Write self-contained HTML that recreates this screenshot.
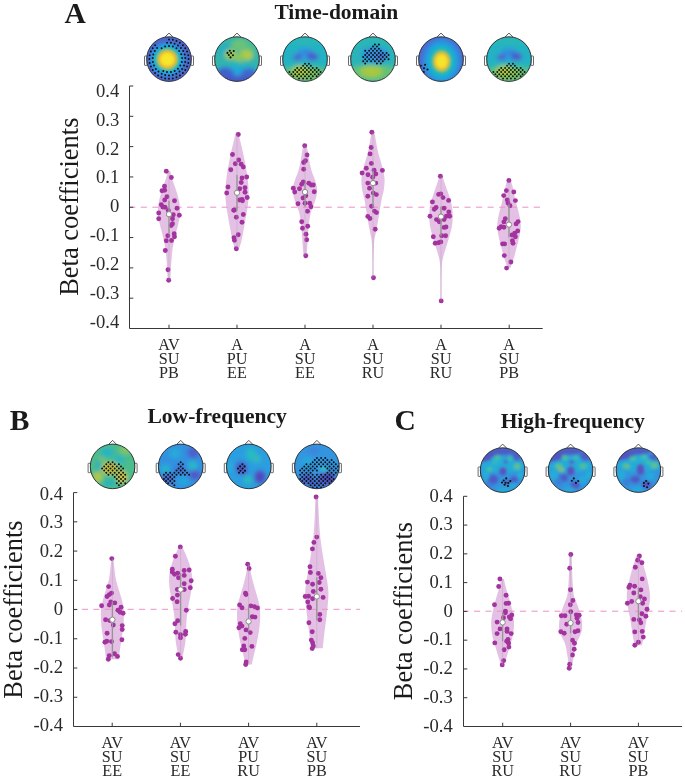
<!DOCTYPE html>
<html><head><meta charset="utf-8"><style>html,body{margin:0;padding:0;background:#fff;}svg{display:block;will-change:transform;}</style></head><body>
<svg width="685" height="779" viewBox="0 0 685 779">
<defs><filter id="blur" x="-30%" y="-30%" width="160%" height="160%"><feGaussianBlur stdDeviation="2.2"/></filter><filter id="blur3" x="-30%" y="-30%" width="160%" height="160%"><feGaussianBlur stdDeviation="1.5"/></filter><filter id="blur2" x="-30%" y="-30%" width="160%" height="160%"><feGaussianBlur stdDeviation="0.9"/></filter><radialGradient id="gA1" cx="0.5" cy="0.5" r="0.5"><stop offset="0" stop-color="#f5ec28"/><stop offset="0.26" stop-color="#f4e22a"/><stop offset="0.345" stop-color="#f3a834"/><stop offset="0.395" stop-color="#a8c84a"/><stop offset="0.445" stop-color="#50be84"/><stop offset="0.50" stop-color="#20b4c2"/><stop offset="0.57" stop-color="#18acd8"/><stop offset="0.67" stop-color="#2f8ee0"/><stop offset="0.80" stop-color="#4868cc"/><stop offset="1" stop-color="#4a66ca"/></radialGradient><radialGradient id="gA5" cx="0.5" cy="0.5" r="0.5"><stop offset="0" stop-color="#f3ea2a"/><stop offset="0.19" stop-color="#f3e02c"/><stop offset="0.25" stop-color="#f2b036"/><stop offset="0.29" stop-color="#a8c84a"/><stop offset="0.33" stop-color="#54be82"/><stop offset="0.40" stop-color="#22b4c0"/><stop offset="0.50" stop-color="#1aaad8"/><stop offset="0.60" stop-color="#2a94e0"/><stop offset="0.75" stop-color="#4670d2"/><stop offset="1" stop-color="#4866cc"/></radialGradient></defs>
<rect width="685" height="779" fill="#fff"/>
<text x="64.6" y="22.6" font-family='"Liberation Serif", serif' font-weight="bold" font-size="29.5" fill="#1a1a1a">A</text>
<text x="9.8" y="430" font-family='"Liberation Serif", serif' font-weight="bold" font-size="29.5" fill="#1a1a1a">B</text>
<text x="394.6" y="430" font-family='"Liberation Serif", serif' font-weight="bold" font-size="29.5" fill="#1a1a1a">C</text>
<text x="336.3" y="19.3" text-anchor="middle" font-family='"Liberation Serif", serif' font-weight="bold" font-size="21.5" fill="#1a1a1a">Time-domain</text>
<text x="217.2" y="422.8" text-anchor="middle" font-family='"Liberation Serif", serif' font-weight="bold" font-size="21.5" fill="#1a1a1a">Low-frequency</text>
<text x="572.7" y="427.9" text-anchor="middle" font-family='"Liberation Serif", serif' font-weight="bold" font-size="21.5" fill="#1a1a1a">High-frequency</text>
<path d="M170.20,171.00 C170.58,172.50 171.53,176.83 172.50,180.00 C173.47,183.17 174.95,186.67 176.00,190.00 C177.05,193.33 178.13,197.00 178.80,200.00 C179.47,203.00 179.83,205.33 180.00,208.00 C180.17,210.67 180.08,213.33 179.80,216.00 C179.52,218.67 178.90,221.33 178.30,224.00 C177.70,226.67 176.95,229.00 176.20,232.00 C175.45,235.00 174.47,238.67 173.80,242.00 C173.13,245.33 172.63,248.33 172.20,252.00 C171.77,255.67 171.47,260.17 171.20,264.00 C170.93,267.83 170.80,272.00 170.60,275.00 C170.40,278.00 170.10,280.83 170.00,282.00 L168.00,282.00 C167.90,280.83 167.60,278.00 167.40,275.00 C167.20,272.00 167.07,267.83 166.80,264.00 C166.53,260.17 166.23,255.67 165.80,252.00 C165.37,248.33 164.87,245.33 164.20,242.00 C163.53,238.67 162.55,235.00 161.80,232.00 C161.05,229.00 160.30,226.67 159.70,224.00 C159.10,221.33 158.48,218.67 158.20,216.00 C157.92,213.33 157.83,210.67 158.00,208.00 C158.17,205.33 158.53,203.00 159.20,200.00 C159.87,197.00 160.95,193.33 162.00,190.00 C163.05,186.67 164.53,183.17 165.50,180.00 C166.47,176.83 167.42,172.50 167.80,171.00 Z" fill="#e4c1e4"/>
<path d="M238.20,132.50 C238.58,134.08 239.62,138.25 240.50,142.00 C241.38,145.75 242.58,150.67 243.50,155.00 C244.42,159.33 245.28,163.83 246.00,168.00 C246.72,172.17 247.37,176.00 247.80,180.00 C248.23,184.00 248.53,188.33 248.60,192.00 C248.67,195.67 248.50,198.67 248.20,202.00 C247.90,205.33 247.33,208.67 246.80,212.00 C246.27,215.33 245.60,218.67 245.00,222.00 C244.40,225.33 243.83,228.67 243.20,232.00 C242.57,235.33 242.03,238.83 241.20,242.00 C240.37,245.17 238.70,249.50 238.20,251.00 L235.80,251.00 C235.30,249.50 233.63,245.17 232.80,242.00 C231.97,238.83 231.43,235.33 230.80,232.00 C230.17,228.67 229.60,225.33 229.00,222.00 C228.40,218.67 227.73,215.33 227.20,212.00 C226.67,208.67 226.10,205.33 225.80,202.00 C225.50,198.67 225.33,195.67 225.40,192.00 C225.47,188.33 225.77,184.00 226.20,180.00 C226.63,176.00 227.28,172.17 228.00,168.00 C228.72,163.83 229.58,159.33 230.50,155.00 C231.42,150.67 232.62,145.75 233.50,142.00 C234.38,138.25 235.42,134.08 235.80,132.50 Z" fill="#e4c1e4"/>
<path d="M306.20,144.20 C306.50,145.50 307.45,149.03 308.00,152.00 C308.55,154.97 308.83,158.67 309.50,162.00 C310.17,165.33 311.08,169.00 312.00,172.00 C312.92,175.00 314.17,177.33 315.00,180.00 C315.83,182.67 316.75,185.33 317.00,188.00 C317.25,190.67 317.00,193.33 316.50,196.00 C316.00,198.67 314.92,201.33 314.00,204.00 C313.08,206.67 311.80,209.00 311.00,212.00 C310.20,215.00 309.70,218.17 309.20,222.00 C308.70,225.83 308.33,230.67 308.00,235.00 C307.67,239.33 307.53,244.12 307.20,248.00 C306.87,251.88 306.20,256.58 306.00,258.30 L304.00,258.30 C303.80,256.58 303.13,251.88 302.80,248.00 C302.47,244.12 302.33,239.33 302.00,235.00 C301.67,230.67 301.30,225.83 300.80,222.00 C300.30,218.17 299.80,215.00 299.00,212.00 C298.20,209.00 296.92,206.67 296.00,204.00 C295.08,201.33 294.00,198.67 293.50,196.00 C293.00,193.33 292.75,190.67 293.00,188.00 C293.25,185.33 294.17,182.67 295.00,180.00 C295.83,177.33 297.08,175.00 298.00,172.00 C298.92,169.00 299.83,165.33 300.50,162.00 C301.17,158.67 301.45,154.97 302.00,152.00 C302.55,149.03 303.50,145.50 303.80,144.20 Z" fill="#e4c1e4"/>
<path d="M374.20,130.60 C374.47,132.17 375.17,136.43 375.80,140.00 C376.43,143.57 377.05,148.00 378.00,152.00 C378.95,156.00 380.58,160.67 381.50,164.00 C382.42,167.33 382.98,169.33 383.50,172.00 C384.02,174.67 384.55,177.00 384.60,180.00 C384.65,183.00 384.32,186.67 383.80,190.00 C383.28,193.33 382.22,196.33 381.50,200.00 C380.78,203.67 380.17,208.00 379.50,212.00 C378.83,216.00 378.15,220.33 377.50,224.00 C376.85,227.67 376.15,231.00 375.60,234.00 C375.05,237.00 374.53,237.67 374.20,242.00 C373.87,246.33 373.70,253.83 373.60,260.00 C373.50,266.17 373.60,275.83 373.60,279.00 L372.40,279.00 C372.40,275.83 372.50,266.17 372.40,260.00 C372.30,253.83 372.13,246.33 371.80,242.00 C371.47,237.67 370.95,237.00 370.40,234.00 C369.85,231.00 369.15,227.67 368.50,224.00 C367.85,220.33 367.17,216.00 366.50,212.00 C365.83,208.00 365.22,203.67 364.50,200.00 C363.78,196.33 362.72,193.33 362.20,190.00 C361.68,186.67 361.35,183.00 361.40,180.00 C361.45,177.00 361.98,174.67 362.50,172.00 C363.02,169.33 363.58,167.33 364.50,164.00 C365.42,160.67 367.05,156.00 368.00,152.00 C368.95,148.00 369.57,143.57 370.20,140.00 C370.83,136.43 371.53,132.17 371.80,130.60 Z" fill="#e4c1e4"/>
<path d="M442.20,175.20 C442.67,176.67 443.95,180.87 445.00,184.00 C446.05,187.13 447.42,190.67 448.50,194.00 C449.58,197.33 450.78,200.50 451.50,204.00 C452.22,207.50 452.72,211.33 452.80,215.00 C452.88,218.67 452.55,222.50 452.00,226.00 C451.45,229.50 450.42,232.67 449.50,236.00 C448.58,239.33 447.50,242.67 446.50,246.00 C445.50,249.33 444.25,253.00 443.50,256.00 C442.75,259.00 442.32,260.00 442.00,264.00 C441.68,268.00 441.67,273.53 441.60,280.00 C441.53,286.47 441.60,299.00 441.60,302.80 L440.40,302.80 C440.40,299.00 440.47,286.47 440.40,280.00 C440.33,273.53 440.32,268.00 440.00,264.00 C439.68,260.00 439.25,259.00 438.50,256.00 C437.75,253.00 436.50,249.33 435.50,246.00 C434.50,242.67 433.42,239.33 432.50,236.00 C431.58,232.67 430.55,229.50 430.00,226.00 C429.45,222.50 429.12,218.67 429.20,215.00 C429.28,211.33 429.78,207.50 430.50,204.00 C431.22,200.50 432.42,197.33 433.50,194.00 C434.58,190.67 435.95,187.13 437.00,184.00 C438.05,180.87 439.33,176.67 439.80,175.20 Z" fill="#e4c1e4"/>
<path d="M510.20,178.80 C510.58,180.00 511.78,183.13 512.50,186.00 C513.22,188.87 513.75,192.67 514.50,196.00 C515.25,199.33 516.17,202.67 517.00,206.00 C517.83,209.33 518.87,212.67 519.50,216.00 C520.13,219.33 520.80,222.67 520.80,226.00 C520.80,229.33 520.13,232.67 519.50,236.00 C518.87,239.33 517.83,242.67 517.00,246.00 C516.17,249.33 515.25,253.33 514.50,256.00 C513.75,258.67 513.17,260.05 512.50,262.00 C511.83,263.95 510.83,266.75 510.50,267.70 L507.50,267.70 C507.17,266.75 506.17,263.95 505.50,262.00 C504.83,260.05 504.25,258.67 503.50,256.00 C502.75,253.33 501.83,249.33 501.00,246.00 C500.17,242.67 499.13,239.33 498.50,236.00 C497.87,232.67 497.20,229.33 497.20,226.00 C497.20,222.67 497.87,219.33 498.50,216.00 C499.13,212.67 500.17,209.33 501.00,206.00 C501.83,202.67 502.75,199.33 503.50,196.00 C504.25,192.67 504.78,188.87 505.50,186.00 C506.22,183.13 507.42,180.00 507.80,178.80 Z" fill="#e4c1e4"/>
<path d="M113.60,560.30 C113.77,561.92 114.20,566.72 114.60,570.00 C115.00,573.28 115.28,576.67 116.00,580.00 C116.72,583.33 117.92,586.67 118.90,590.00 C119.88,593.33 121.08,596.67 121.90,600.00 C122.72,603.33 123.48,606.67 123.80,610.00 C124.12,613.33 123.95,616.67 123.80,620.00 C123.65,623.33 123.30,626.67 122.90,630.00 C122.50,633.33 121.90,636.67 121.40,640.00 C120.90,643.33 120.37,646.78 119.90,650.00 C119.43,653.22 118.82,657.75 118.60,659.30 L106.20,659.30 C105.98,657.75 105.37,653.22 104.90,650.00 C104.43,646.78 103.90,643.33 103.40,640.00 C102.90,636.67 102.30,633.33 101.90,630.00 C101.50,626.67 101.15,623.33 101.00,620.00 C100.85,616.67 100.68,613.33 101.00,610.00 C101.32,606.67 102.08,603.33 102.90,600.00 C103.72,596.67 104.92,593.33 105.90,590.00 C106.88,586.67 108.08,583.33 108.80,580.00 C109.52,576.67 109.80,573.28 110.20,570.00 C110.60,566.72 111.03,561.92 111.20,560.30 Z" fill="#e4c1e4"/>
<path d="M181.80,545.40 C182.35,546.67 183.88,550.07 185.10,553.00 C186.32,555.93 188.02,559.67 189.10,563.00 C190.18,566.33 191.10,569.83 191.60,573.00 C192.10,576.17 192.18,578.83 192.10,582.00 C192.02,585.17 191.60,588.67 191.10,592.00 C190.60,595.33 189.72,598.67 189.10,602.00 C188.48,605.33 187.85,608.67 187.40,612.00 C186.95,615.33 186.62,618.67 186.40,622.00 C186.18,625.33 186.27,628.67 186.10,632.00 C185.93,635.33 185.82,638.67 185.40,642.00 C184.98,645.33 184.20,649.25 183.60,652.00 C183.00,654.75 182.10,657.42 181.80,658.50 L179.40,658.50 C179.10,657.42 178.20,654.75 177.60,652.00 C177.00,649.25 176.22,645.33 175.80,642.00 C175.38,638.67 175.27,635.33 175.10,632.00 C174.93,628.67 175.02,625.33 174.80,622.00 C174.58,618.67 174.25,615.33 173.80,612.00 C173.35,608.67 172.72,605.33 172.10,602.00 C171.48,598.67 170.60,595.33 170.10,592.00 C169.60,588.67 169.18,585.17 169.10,582.00 C169.02,578.83 169.10,576.17 169.60,573.00 C170.10,569.83 171.02,566.33 172.10,563.00 C173.18,559.67 174.88,555.93 176.10,553.00 C177.32,550.07 178.85,546.67 179.40,545.40 Z" fill="#e4c1e4"/>
<path d="M249.80,566.40 C250.10,568.00 250.88,572.73 251.60,576.00 C252.32,579.27 253.18,582.67 254.10,586.00 C255.02,589.33 256.18,592.67 257.10,596.00 C258.02,599.33 259.08,602.67 259.60,606.00 C260.12,609.33 260.20,612.67 260.20,616.00 C260.20,619.33 259.95,622.67 259.60,626.00 C259.25,629.33 258.68,632.67 258.10,636.00 C257.52,639.33 256.85,642.67 256.10,646.00 C255.35,649.33 254.32,652.92 253.60,656.00 C252.88,659.08 252.10,663.08 251.80,664.50 L245.40,664.50 C245.10,663.08 244.32,659.08 243.60,656.00 C242.88,652.92 241.85,649.33 241.10,646.00 C240.35,642.67 239.68,639.33 239.10,636.00 C238.52,632.67 237.95,629.33 237.60,626.00 C237.25,622.67 237.00,619.33 237.00,616.00 C237.00,612.67 237.08,609.33 237.60,606.00 C238.12,602.67 239.18,599.33 240.10,596.00 C241.02,592.67 242.18,589.33 243.10,586.00 C244.02,582.67 244.88,579.27 245.60,576.00 C246.32,572.73 247.10,568.00 247.40,566.40 Z" fill="#e4c1e4"/>
<path d="M318.00,496.50 C318.10,498.75 318.38,505.25 318.60,510.00 C318.82,514.75 318.97,520.00 319.30,525.00 C319.63,530.00 320.02,535.00 320.60,540.00 C321.18,545.00 322.02,550.00 322.80,555.00 C323.58,560.00 324.55,565.50 325.30,570.00 C326.05,574.50 326.78,578.33 327.30,582.00 C327.82,585.67 328.28,588.67 328.40,592.00 C328.52,595.33 328.27,598.33 328.00,602.00 C327.73,605.67 327.25,610.00 326.80,614.00 C326.35,618.00 325.80,622.00 325.30,626.00 C324.80,630.00 324.22,634.30 323.80,638.00 C323.38,641.70 322.97,646.50 322.80,648.20 L310.80,648.20 C310.63,646.50 310.22,641.70 309.80,638.00 C309.38,634.30 308.80,630.00 308.30,626.00 C307.80,622.00 307.25,618.00 306.80,614.00 C306.35,610.00 305.87,605.67 305.60,602.00 C305.33,598.33 305.08,595.33 305.20,592.00 C305.32,588.67 305.78,585.67 306.30,582.00 C306.82,578.33 307.55,574.50 308.30,570.00 C309.05,565.50 310.02,560.00 310.80,555.00 C311.58,550.00 312.42,545.00 313.00,540.00 C313.58,535.00 313.97,530.00 314.30,525.00 C314.63,520.00 314.78,514.75 315.00,510.00 C315.22,505.25 315.50,498.75 315.60,496.50 Z" fill="#e4c1e4"/>
<path d="M503.80,579.00 C504.27,580.83 505.63,586.50 506.60,590.00 C507.57,593.50 508.68,596.67 509.60,600.00 C510.52,603.33 511.37,606.33 512.10,610.00 C512.83,613.67 513.83,618.00 514.00,622.00 C514.17,626.00 513.67,630.33 513.10,634.00 C512.53,637.67 511.52,640.67 510.60,644.00 C509.68,647.33 508.52,651.00 507.60,654.00 C506.68,657.00 505.77,660.03 505.10,662.00 C504.43,663.97 503.85,665.17 503.60,665.80 L501.60,665.80 C501.35,665.17 500.77,663.97 500.10,662.00 C499.43,660.03 498.52,657.00 497.60,654.00 C496.68,651.00 495.52,647.33 494.60,644.00 C493.68,640.67 492.67,637.67 492.10,634.00 C491.53,630.33 491.03,626.00 491.20,622.00 C491.37,618.00 492.37,613.67 493.10,610.00 C493.83,606.33 494.68,603.33 495.60,600.00 C496.52,596.67 497.63,593.50 498.60,590.00 C499.57,586.50 500.93,580.83 501.40,579.00 Z" fill="#e4c1e4"/>
<path d="M571.80,554.20 C571.85,556.83 571.93,564.87 572.10,570.00 C572.27,575.13 572.52,580.83 572.80,585.00 C573.08,589.17 573.37,592.50 573.80,595.00 C574.23,597.50 574.80,598.33 575.40,600.00 C576.00,601.67 576.75,603.25 577.40,605.00 C578.05,606.75 578.72,608.67 579.30,610.50 C579.88,612.33 580.47,614.25 580.90,616.00 C581.33,617.75 581.68,619.33 581.90,621.00 C582.12,622.67 582.23,624.33 582.20,626.00 C582.17,627.67 582.08,629.33 581.70,631.00 C581.32,632.67 580.65,634.28 579.90,636.00 C579.15,637.72 577.93,639.63 577.20,641.30 C576.47,642.97 575.95,644.28 575.50,646.00 C575.05,647.72 574.82,649.77 574.50,651.60 C574.18,653.43 573.87,655.27 573.60,657.00 C573.33,658.73 573.23,659.97 572.90,662.00 C572.57,664.03 571.82,668.00 571.60,669.20 L569.60,669.20 C569.38,668.00 568.63,664.03 568.30,662.00 C567.97,659.97 567.87,658.73 567.60,657.00 C567.33,655.27 567.02,653.43 566.70,651.60 C566.38,649.77 566.15,647.72 565.70,646.00 C565.25,644.28 564.73,642.97 564.00,641.30 C563.27,639.63 562.05,637.72 561.30,636.00 C560.55,634.28 559.88,632.67 559.50,631.00 C559.12,629.33 559.03,627.67 559.00,626.00 C558.97,624.33 559.08,622.67 559.30,621.00 C559.52,619.33 559.87,617.75 560.30,616.00 C560.73,614.25 561.32,612.33 561.90,610.50 C562.48,608.67 563.15,606.75 563.80,605.00 C564.45,603.25 565.20,601.67 565.80,600.00 C566.40,598.33 566.97,597.50 567.40,595.00 C567.83,592.50 568.12,589.17 568.40,585.00 C568.68,580.83 568.93,575.13 569.10,570.00 C569.27,564.87 569.35,556.83 569.40,554.20 Z" fill="#e4c1e4"/>
<path d="M639.90,554.20 C640.32,555.50 641.48,559.03 642.40,562.00 C643.32,564.97 644.48,568.67 645.40,572.00 C646.32,575.33 647.18,578.67 647.90,582.00 C648.62,585.33 649.37,589.00 649.70,592.00 C650.03,595.00 650.12,597.00 649.90,600.00 C649.68,603.00 648.98,606.67 648.40,610.00 C647.82,613.33 646.98,616.67 646.40,620.00 C645.82,623.33 645.43,626.67 644.90,630.00 C644.37,633.33 643.70,637.45 643.20,640.00 C642.70,642.55 642.12,644.42 641.90,645.30 L634.90,645.30 C634.68,644.42 634.10,642.55 633.60,640.00 C633.10,637.45 632.43,633.33 631.90,630.00 C631.37,626.67 630.98,623.33 630.40,620.00 C629.82,616.67 628.98,613.33 628.40,610.00 C627.82,606.67 627.12,603.00 626.90,600.00 C626.68,597.00 626.77,595.00 627.10,592.00 C627.43,589.00 628.18,585.33 628.90,582.00 C629.62,578.67 630.48,575.33 631.40,572.00 C632.32,568.67 633.48,564.97 634.40,562.00 C635.32,559.03 636.48,555.50 636.90,554.20 Z" fill="#e4c1e4"/>
<line x1="130.0" y1="207.2" x2="542.7" y2="207.2" stroke="#eb90c6" stroke-width="1" stroke-dasharray="6.1 5.46" stroke-dashoffset="0.76"/>
<line x1="74.0" y1="609.3" x2="360" y2="609.3" stroke="#eb90c6" stroke-width="1" stroke-dasharray="6.1 5.33" stroke-dashoffset="3.53"/>
<line x1="464.0" y1="611.2" x2="682.1" y2="611.2" stroke="#eb90c6" stroke-width="1" stroke-dasharray="6.1 5.40" stroke-dashoffset="1.50"/>
<circle cx="166.3" cy="171.3" r="2.45" fill="#a2339f"/>
<circle cx="171.3" cy="177.5" r="2.45" fill="#a2339f"/>
<circle cx="164.5" cy="186.2" r="2.45" fill="#a2339f"/>
<circle cx="162" cy="190.8" r="2.45" fill="#a2339f"/>
<circle cx="164.7" cy="190.3" r="2.45" fill="#a2339f"/>
<circle cx="167" cy="196.7" r="2.45" fill="#a2339f"/>
<circle cx="164.7" cy="200" r="2.45" fill="#a2339f"/>
<circle cx="174.5" cy="200.8" r="2.45" fill="#a2339f"/>
<circle cx="161.3" cy="204.7" r="2.45" fill="#a2339f"/>
<circle cx="162.8" cy="207" r="2.45" fill="#a2339f"/>
<circle cx="165" cy="207.2" r="2.45" fill="#a2339f"/>
<circle cx="177" cy="208.3" r="2.45" fill="#a2339f"/>
<circle cx="168.3" cy="210.5" r="2.45" fill="#a2339f"/>
<circle cx="158.7" cy="213" r="2.45" fill="#a2339f"/>
<circle cx="173.3" cy="214.7" r="2.45" fill="#a2339f"/>
<circle cx="179.3" cy="215.3" r="2.45" fill="#a2339f"/>
<circle cx="158.7" cy="218.7" r="2.45" fill="#a2339f"/>
<circle cx="172.5" cy="218.7" r="2.45" fill="#a2339f"/>
<circle cx="172.5" cy="223.8" r="2.45" fill="#a2339f"/>
<circle cx="171.2" cy="225.5" r="2.45" fill="#a2339f"/>
<circle cx="174.2" cy="233.8" r="2.45" fill="#a2339f"/>
<circle cx="174.5" cy="236.7" r="2.45" fill="#a2339f"/>
<circle cx="167.8" cy="235.8" r="2.45" fill="#a2339f"/>
<circle cx="166.3" cy="240.8" r="2.45" fill="#a2339f"/>
<circle cx="171.5" cy="240.5" r="2.45" fill="#a2339f"/>
<circle cx="165.3" cy="250.5" r="2.45" fill="#a2339f"/>
<circle cx="168" cy="269.7" r="2.45" fill="#a2339f"/>
<circle cx="168.7" cy="280.3" r="2.45" fill="#a2339f"/>
<circle cx="238.3" cy="134.5" r="2.45" fill="#a2339f"/>
<circle cx="232.5" cy="154.5" r="2.45" fill="#a2339f"/>
<circle cx="238.7" cy="160" r="2.45" fill="#a2339f"/>
<circle cx="235.3" cy="163.8" r="2.45" fill="#a2339f"/>
<circle cx="241.2" cy="164.2" r="2.45" fill="#a2339f"/>
<circle cx="243.3" cy="167" r="2.45" fill="#a2339f"/>
<circle cx="230.8" cy="169.7" r="2.45" fill="#a2339f"/>
<circle cx="246.7" cy="177" r="2.45" fill="#a2339f"/>
<circle cx="242" cy="178" r="2.45" fill="#a2339f"/>
<circle cx="241.2" cy="182.5" r="2.45" fill="#a2339f"/>
<circle cx="228" cy="187" r="2.45" fill="#a2339f"/>
<circle cx="245" cy="187.7" r="2.45" fill="#a2339f"/>
<circle cx="239.7" cy="188.7" r="2.45" fill="#a2339f"/>
<circle cx="226.7" cy="193" r="2.45" fill="#a2339f"/>
<circle cx="245" cy="192.3" r="2.45" fill="#a2339f"/>
<circle cx="247.2" cy="197.5" r="2.45" fill="#a2339f"/>
<circle cx="242" cy="199.5" r="2.45" fill="#a2339f"/>
<circle cx="239.5" cy="200" r="2.45" fill="#a2339f"/>
<circle cx="242.5" cy="200.8" r="2.45" fill="#a2339f"/>
<circle cx="233.7" cy="210.3" r="2.45" fill="#a2339f"/>
<circle cx="234.5" cy="210" r="2.45" fill="#a2339f"/>
<circle cx="243.3" cy="214.5" r="2.45" fill="#a2339f"/>
<circle cx="236.3" cy="217.2" r="2.45" fill="#a2339f"/>
<circle cx="242" cy="222.3" r="2.45" fill="#a2339f"/>
<circle cx="238.2" cy="234.7" r="2.45" fill="#a2339f"/>
<circle cx="234" cy="237.8" r="2.45" fill="#a2339f"/>
<circle cx="234.5" cy="240.3" r="2.45" fill="#a2339f"/>
<circle cx="236.3" cy="248.7" r="2.45" fill="#a2339f"/>
<circle cx="304.7" cy="145.8" r="2.45" fill="#a2339f"/>
<circle cx="307" cy="155" r="2.45" fill="#a2339f"/>
<circle cx="305.5" cy="160.8" r="2.45" fill="#a2339f"/>
<circle cx="303.7" cy="162.5" r="2.45" fill="#a2339f"/>
<circle cx="303.7" cy="169.2" r="2.45" fill="#a2339f"/>
<circle cx="303.3" cy="182" r="2.45" fill="#a2339f"/>
<circle cx="301.7" cy="184.2" r="2.45" fill="#a2339f"/>
<circle cx="308.8" cy="183.3" r="2.45" fill="#a2339f"/>
<circle cx="311.3" cy="185" r="2.45" fill="#a2339f"/>
<circle cx="313.3" cy="185" r="2.45" fill="#a2339f"/>
<circle cx="293.3" cy="188.3" r="2.45" fill="#a2339f"/>
<circle cx="299.5" cy="188.7" r="2.45" fill="#a2339f"/>
<circle cx="294.7" cy="192" r="2.45" fill="#a2339f"/>
<circle cx="314.2" cy="191.7" r="2.45" fill="#a2339f"/>
<circle cx="303" cy="198" r="2.45" fill="#a2339f"/>
<circle cx="305.8" cy="195.8" r="2.45" fill="#a2339f"/>
<circle cx="298" cy="203.7" r="2.45" fill="#a2339f"/>
<circle cx="305" cy="203.3" r="2.45" fill="#a2339f"/>
<circle cx="309.7" cy="203.3" r="2.45" fill="#a2339f"/>
<circle cx="311" cy="206.7" r="2.45" fill="#a2339f"/>
<circle cx="307.5" cy="211.2" r="2.45" fill="#a2339f"/>
<circle cx="301.7" cy="221.7" r="2.45" fill="#a2339f"/>
<circle cx="302.5" cy="228.3" r="2.45" fill="#a2339f"/>
<circle cx="307.7" cy="226.3" r="2.45" fill="#a2339f"/>
<circle cx="306" cy="234.2" r="2.45" fill="#a2339f"/>
<circle cx="306.7" cy="239.7" r="2.45" fill="#a2339f"/>
<circle cx="305.8" cy="255.7" r="2.45" fill="#a2339f"/>
<circle cx="371.8" cy="132.3" r="2.45" fill="#a2339f"/>
<circle cx="371.2" cy="147.5" r="2.45" fill="#a2339f"/>
<circle cx="370.1" cy="153.9" r="2.45" fill="#a2339f"/>
<circle cx="371.4" cy="163.4" r="2.45" fill="#a2339f"/>
<circle cx="366.3" cy="168.3" r="2.45" fill="#a2339f"/>
<circle cx="362.1" cy="173" r="2.45" fill="#a2339f"/>
<circle cx="374.1" cy="170.2" r="2.45" fill="#a2339f"/>
<circle cx="382.4" cy="170.4" r="2.45" fill="#a2339f"/>
<circle cx="368" cy="174.7" r="2.45" fill="#a2339f"/>
<circle cx="375.8" cy="174" r="2.45" fill="#a2339f"/>
<circle cx="372.7" cy="177.2" r="2.45" fill="#a2339f"/>
<circle cx="367.8" cy="183.1" r="2.45" fill="#a2339f"/>
<circle cx="375.8" cy="183.1" r="2.45" fill="#a2339f"/>
<circle cx="369.5" cy="188.2" r="2.45" fill="#a2339f"/>
<circle cx="373.3" cy="193.1" r="2.45" fill="#a2339f"/>
<circle cx="376.3" cy="194.6" r="2.45" fill="#a2339f"/>
<circle cx="367.8" cy="196.3" r="2.45" fill="#a2339f"/>
<circle cx="371.6" cy="206.2" r="2.45" fill="#a2339f"/>
<circle cx="374.4" cy="211.1" r="2.45" fill="#a2339f"/>
<circle cx="376.5" cy="212.6" r="2.45" fill="#a2339f"/>
<circle cx="367.8" cy="216.4" r="2.45" fill="#a2339f"/>
<circle cx="369.9" cy="218.5" r="2.45" fill="#a2339f"/>
<circle cx="375.2" cy="229.3" r="2.45" fill="#a2339f"/>
<circle cx="373.5" cy="277.8" r="2.45" fill="#a2339f"/>
<circle cx="440.4" cy="176.2" r="2.45" fill="#a2339f"/>
<circle cx="438.6" cy="194.4" r="2.45" fill="#a2339f"/>
<circle cx="440.8" cy="193.9" r="2.45" fill="#a2339f"/>
<circle cx="443" cy="197.6" r="2.45" fill="#a2339f"/>
<circle cx="448.6" cy="200.4" r="2.45" fill="#a2339f"/>
<circle cx="432.4" cy="201.9" r="2.45" fill="#a2339f"/>
<circle cx="436.1" cy="207.5" r="2.45" fill="#a2339f"/>
<circle cx="434.3" cy="209.3" r="2.45" fill="#a2339f"/>
<circle cx="444.1" cy="208.2" r="2.45" fill="#a2339f"/>
<circle cx="448.8" cy="211.9" r="2.45" fill="#a2339f"/>
<circle cx="430" cy="216.2" r="2.45" fill="#a2339f"/>
<circle cx="446.4" cy="216.2" r="2.45" fill="#a2339f"/>
<circle cx="449.7" cy="216.2" r="2.45" fill="#a2339f"/>
<circle cx="436.5" cy="219.6" r="2.45" fill="#a2339f"/>
<circle cx="439.3" cy="221.8" r="2.45" fill="#a2339f"/>
<circle cx="444.1" cy="219.6" r="2.45" fill="#a2339f"/>
<circle cx="444.1" cy="227.4" r="2.45" fill="#a2339f"/>
<circle cx="446" cy="227" r="2.45" fill="#a2339f"/>
<circle cx="433.3" cy="236.7" r="2.45" fill="#a2339f"/>
<circle cx="441.7" cy="235.8" r="2.45" fill="#a2339f"/>
<circle cx="445.6" cy="235.8" r="2.45" fill="#a2339f"/>
<circle cx="435.2" cy="243.2" r="2.45" fill="#a2339f"/>
<circle cx="438.6" cy="242.8" r="2.45" fill="#a2339f"/>
<circle cx="440.8" cy="241.9" r="2.45" fill="#a2339f"/>
<circle cx="441.2" cy="300.9" r="2.45" fill="#a2339f"/>
<circle cx="508.9" cy="180.5" r="2.45" fill="#a2339f"/>
<circle cx="506.4" cy="190.6" r="2.45" fill="#a2339f"/>
<circle cx="513.8" cy="192" r="2.45" fill="#a2339f"/>
<circle cx="503.7" cy="195.6" r="2.45" fill="#a2339f"/>
<circle cx="507.3" cy="199.9" r="2.45" fill="#a2339f"/>
<circle cx="515.4" cy="200.6" r="2.45" fill="#a2339f"/>
<circle cx="508" cy="203" r="2.45" fill="#a2339f"/>
<circle cx="510" cy="205.7" r="2.45" fill="#a2339f"/>
<circle cx="505.3" cy="218.8" r="2.45" fill="#a2339f"/>
<circle cx="503.9" cy="221.9" r="2.45" fill="#a2339f"/>
<circle cx="518.1" cy="221.6" r="2.45" fill="#a2339f"/>
<circle cx="516.1" cy="223.9" r="2.45" fill="#a2339f"/>
<circle cx="501.2" cy="226.6" r="2.45" fill="#a2339f"/>
<circle cx="499.2" cy="228.2" r="2.45" fill="#a2339f"/>
<circle cx="503.9" cy="227.3" r="2.45" fill="#a2339f"/>
<circle cx="517.7" cy="230.9" r="2.45" fill="#a2339f"/>
<circle cx="514.7" cy="233.3" r="2.45" fill="#a2339f"/>
<circle cx="512" cy="235" r="2.45" fill="#a2339f"/>
<circle cx="515.4" cy="236.7" r="2.45" fill="#a2339f"/>
<circle cx="512.4" cy="240.8" r="2.45" fill="#a2339f"/>
<circle cx="513" cy="243.2" r="2.45" fill="#a2339f"/>
<circle cx="502.6" cy="243.9" r="2.45" fill="#a2339f"/>
<circle cx="504.6" cy="243.9" r="2.45" fill="#a2339f"/>
<circle cx="504.3" cy="255.6" r="2.45" fill="#a2339f"/>
<circle cx="510.9" cy="262" r="2.45" fill="#a2339f"/>
<circle cx="506.6" cy="268.1" r="2.45" fill="#a2339f"/>
<circle cx="111.8" cy="558.6" r="2.45" fill="#a2339f"/>
<circle cx="108.6" cy="586.6" r="2.45" fill="#a2339f"/>
<circle cx="111.5" cy="593.1" r="2.45" fill="#a2339f"/>
<circle cx="109.3" cy="594.6" r="2.45" fill="#a2339f"/>
<circle cx="107.1" cy="596.5" r="2.45" fill="#a2339f"/>
<circle cx="110.8" cy="602" r="2.45" fill="#a2339f"/>
<circle cx="114.8" cy="602.9" r="2.45" fill="#a2339f"/>
<circle cx="109.3" cy="605" r="2.45" fill="#a2339f"/>
<circle cx="101.6" cy="605.8" r="2.45" fill="#a2339f"/>
<circle cx="121.1" cy="607.3" r="2.45" fill="#a2339f"/>
<circle cx="117.9" cy="610.3" r="2.45" fill="#a2339f"/>
<circle cx="120.1" cy="612.3" r="2.45" fill="#a2339f"/>
<circle cx="123.1" cy="613.2" r="2.45" fill="#a2339f"/>
<circle cx="105.6" cy="619.7" r="2.45" fill="#a2339f"/>
<circle cx="109.8" cy="620.6" r="2.45" fill="#a2339f"/>
<circle cx="113.3" cy="625" r="2.45" fill="#a2339f"/>
<circle cx="122.2" cy="625.6" r="2.45" fill="#a2339f"/>
<circle cx="122.2" cy="629.5" r="2.45" fill="#a2339f"/>
<circle cx="107.1" cy="633.2" r="2.45" fill="#a2339f"/>
<circle cx="121.9" cy="639.7" r="2.45" fill="#a2339f"/>
<circle cx="104.9" cy="642.3" r="2.45" fill="#a2339f"/>
<circle cx="106.8" cy="641.3" r="2.45" fill="#a2339f"/>
<circle cx="111.5" cy="641.6" r="2.45" fill="#a2339f"/>
<circle cx="114.5" cy="653.8" r="2.45" fill="#a2339f"/>
<circle cx="117.5" cy="656.4" r="2.45" fill="#a2339f"/>
<circle cx="109.3" cy="655.6" r="2.45" fill="#a2339f"/>
<circle cx="108.3" cy="659.3" r="2.45" fill="#a2339f"/>
<circle cx="180.3" cy="546.9" r="2.45" fill="#a2339f"/>
<circle cx="175.4" cy="556.2" r="2.45" fill="#a2339f"/>
<circle cx="172.3" cy="569.2" r="2.45" fill="#a2339f"/>
<circle cx="172.3" cy="572" r="2.45" fill="#a2339f"/>
<circle cx="174.6" cy="574.2" r="2.45" fill="#a2339f"/>
<circle cx="177.7" cy="573.1" r="2.45" fill="#a2339f"/>
<circle cx="178.5" cy="577.7" r="2.45" fill="#a2339f"/>
<circle cx="184.2" cy="570.5" r="2.45" fill="#a2339f"/>
<circle cx="189.2" cy="570" r="2.45" fill="#a2339f"/>
<circle cx="184.2" cy="575.4" r="2.45" fill="#a2339f"/>
<circle cx="191.2" cy="580.8" r="2.45" fill="#a2339f"/>
<circle cx="184.2" cy="583.8" r="2.45" fill="#a2339f"/>
<circle cx="190.3" cy="587.7" r="2.45" fill="#a2339f"/>
<circle cx="177.4" cy="589.5" r="2.45" fill="#a2339f"/>
<circle cx="184.2" cy="589.5" r="2.45" fill="#a2339f"/>
<circle cx="177.4" cy="595.1" r="2.45" fill="#a2339f"/>
<circle cx="172.6" cy="598.5" r="2.45" fill="#a2339f"/>
<circle cx="177.1" cy="601.8" r="2.45" fill="#a2339f"/>
<circle cx="186.3" cy="610.3" r="2.45" fill="#a2339f"/>
<circle cx="177.7" cy="620.8" r="2.45" fill="#a2339f"/>
<circle cx="174.9" cy="623.8" r="2.45" fill="#a2339f"/>
<circle cx="175.8" cy="632.3" r="2.45" fill="#a2339f"/>
<circle cx="180.5" cy="634.6" r="2.45" fill="#a2339f"/>
<circle cx="180.5" cy="637.7" r="2.45" fill="#a2339f"/>
<circle cx="185.7" cy="631.5" r="2.45" fill="#a2339f"/>
<circle cx="185.4" cy="634.2" r="2.45" fill="#a2339f"/>
<circle cx="178.2" cy="654.6" r="2.45" fill="#a2339f"/>
<circle cx="180.5" cy="658.2" r="2.45" fill="#a2339f"/>
<circle cx="247.7" cy="564.2" r="2.45" fill="#a2339f"/>
<circle cx="249.1" cy="568.5" r="2.45" fill="#a2339f"/>
<circle cx="245.5" cy="593.2" r="2.45" fill="#a2339f"/>
<circle cx="246" cy="594.6" r="2.45" fill="#a2339f"/>
<circle cx="239.6" cy="604.9" r="2.45" fill="#a2339f"/>
<circle cx="242" cy="607.7" r="2.45" fill="#a2339f"/>
<circle cx="250.8" cy="605.9" r="2.45" fill="#a2339f"/>
<circle cx="254.4" cy="606.6" r="2.45" fill="#a2339f"/>
<circle cx="257.5" cy="608" r="2.45" fill="#a2339f"/>
<circle cx="252.3" cy="616.8" r="2.45" fill="#a2339f"/>
<circle cx="255" cy="617.1" r="2.45" fill="#a2339f"/>
<circle cx="240.3" cy="623.8" r="2.45" fill="#a2339f"/>
<circle cx="242" cy="626.1" r="2.45" fill="#a2339f"/>
<circle cx="238.9" cy="627.8" r="2.45" fill="#a2339f"/>
<circle cx="246" cy="629.9" r="2.45" fill="#a2339f"/>
<circle cx="250.2" cy="632.6" r="2.45" fill="#a2339f"/>
<circle cx="244.8" cy="638.4" r="2.45" fill="#a2339f"/>
<circle cx="243.8" cy="645.9" r="2.45" fill="#a2339f"/>
<circle cx="242.3" cy="649.7" r="2.45" fill="#a2339f"/>
<circle cx="244.8" cy="649.7" r="2.45" fill="#a2339f"/>
<circle cx="251.9" cy="646.4" r="2.45" fill="#a2339f"/>
<circle cx="246.2" cy="662" r="2.45" fill="#a2339f"/>
<circle cx="245.7" cy="664.5" r="2.45" fill="#a2339f"/>
<circle cx="316.1" cy="497" r="2.45" fill="#a2339f"/>
<circle cx="316.8" cy="537.1" r="2.45" fill="#a2339f"/>
<circle cx="313.9" cy="542.4" r="2.45" fill="#a2339f"/>
<circle cx="312.4" cy="548.9" r="2.45" fill="#a2339f"/>
<circle cx="310" cy="566.8" r="2.45" fill="#a2339f"/>
<circle cx="310.4" cy="572.5" r="2.45" fill="#a2339f"/>
<circle cx="318.3" cy="573.4" r="2.45" fill="#a2339f"/>
<circle cx="320.9" cy="577.7" r="2.45" fill="#a2339f"/>
<circle cx="307.4" cy="582.1" r="2.45" fill="#a2339f"/>
<circle cx="312.6" cy="584.3" r="2.45" fill="#a2339f"/>
<circle cx="319.2" cy="582.5" r="2.45" fill="#a2339f"/>
<circle cx="320.9" cy="589.3" r="2.45" fill="#a2339f"/>
<circle cx="313.3" cy="591.5" r="2.45" fill="#a2339f"/>
<circle cx="305.2" cy="596.5" r="2.45" fill="#a2339f"/>
<circle cx="308.5" cy="596.3" r="2.45" fill="#a2339f"/>
<circle cx="312.6" cy="598.7" r="2.45" fill="#a2339f"/>
<circle cx="323.1" cy="597.4" r="2.45" fill="#a2339f"/>
<circle cx="307.8" cy="601.9" r="2.45" fill="#a2339f"/>
<circle cx="308.9" cy="606.7" r="2.45" fill="#a2339f"/>
<circle cx="309.6" cy="607.8" r="2.45" fill="#a2339f"/>
<circle cx="319.8" cy="614.4" r="2.45" fill="#a2339f"/>
<circle cx="319.8" cy="619.8" r="2.45" fill="#a2339f"/>
<circle cx="308.9" cy="622.7" r="2.45" fill="#a2339f"/>
<circle cx="312.2" cy="631.8" r="2.45" fill="#a2339f"/>
<circle cx="311.3" cy="640.1" r="2.45" fill="#a2339f"/>
<circle cx="312.6" cy="642.7" r="2.45" fill="#a2339f"/>
<circle cx="313.3" cy="646" r="2.45" fill="#a2339f"/>
<circle cx="312.2" cy="648.6" r="2.45" fill="#a2339f"/>
<circle cx="499.9" cy="579" r="2.45" fill="#a2339f"/>
<circle cx="498.7" cy="586.5" r="2.45" fill="#a2339f"/>
<circle cx="506.1" cy="595.3" r="2.45" fill="#a2339f"/>
<circle cx="494.5" cy="604.7" r="2.45" fill="#a2339f"/>
<circle cx="506.1" cy="603.4" r="2.45" fill="#a2339f"/>
<circle cx="508.6" cy="603.2" r="2.45" fill="#a2339f"/>
<circle cx="505.4" cy="611.1" r="2.45" fill="#a2339f"/>
<circle cx="505.4" cy="612.8" r="2.45" fill="#a2339f"/>
<circle cx="503.5" cy="617.8" r="2.45" fill="#a2339f"/>
<circle cx="509.3" cy="616.9" r="2.45" fill="#a2339f"/>
<circle cx="511.8" cy="615" r="2.45" fill="#a2339f"/>
<circle cx="510.6" cy="618.8" r="2.45" fill="#a2339f"/>
<circle cx="497.1" cy="622.1" r="2.45" fill="#a2339f"/>
<circle cx="500" cy="628.9" r="2.45" fill="#a2339f"/>
<circle cx="507" cy="628.9" r="2.45" fill="#a2339f"/>
<circle cx="507" cy="631.4" r="2.45" fill="#a2339f"/>
<circle cx="511.2" cy="633.6" r="2.45" fill="#a2339f"/>
<circle cx="497.1" cy="633.6" r="2.45" fill="#a2339f"/>
<circle cx="508" cy="639.4" r="2.45" fill="#a2339f"/>
<circle cx="506.7" cy="641.3" r="2.45" fill="#a2339f"/>
<circle cx="508.6" cy="643.3" r="2.45" fill="#a2339f"/>
<circle cx="494.8" cy="642.9" r="2.45" fill="#a2339f"/>
<circle cx="508.9" cy="647.1" r="2.45" fill="#a2339f"/>
<circle cx="504.1" cy="649.7" r="2.45" fill="#a2339f"/>
<circle cx="503.7" cy="660.6" r="2.45" fill="#a2339f"/>
<circle cx="502.2" cy="664.9" r="2.45" fill="#a2339f"/>
<circle cx="570.8" cy="554.5" r="2.45" fill="#a2339f"/>
<circle cx="569.7" cy="568.3" r="2.45" fill="#a2339f"/>
<circle cx="570.5" cy="589.7" r="2.45" fill="#a2339f"/>
<circle cx="572.8" cy="600.5" r="2.45" fill="#a2339f"/>
<circle cx="570.3" cy="604.7" r="2.45" fill="#a2339f"/>
<circle cx="570.8" cy="611.7" r="2.45" fill="#a2339f"/>
<circle cx="561.3" cy="615.8" r="2.45" fill="#a2339f"/>
<circle cx="565" cy="615.8" r="2.45" fill="#a2339f"/>
<circle cx="576.3" cy="615" r="2.45" fill="#a2339f"/>
<circle cx="579.2" cy="615.3" r="2.45" fill="#a2339f"/>
<circle cx="577" cy="618.3" r="2.45" fill="#a2339f"/>
<circle cx="578" cy="622.5" r="2.45" fill="#a2339f"/>
<circle cx="566.7" cy="624.2" r="2.45" fill="#a2339f"/>
<circle cx="560.8" cy="631.7" r="2.45" fill="#a2339f"/>
<circle cx="564.2" cy="633.3" r="2.45" fill="#a2339f"/>
<circle cx="575" cy="631.7" r="2.45" fill="#a2339f"/>
<circle cx="578" cy="630.8" r="2.45" fill="#a2339f"/>
<circle cx="572.5" cy="640.3" r="2.45" fill="#a2339f"/>
<circle cx="574.5" cy="643.3" r="2.45" fill="#a2339f"/>
<circle cx="574.2" cy="649.2" r="2.45" fill="#a2339f"/>
<circle cx="572.5" cy="655" r="2.45" fill="#a2339f"/>
<circle cx="569.7" cy="664.2" r="2.45" fill="#a2339f"/>
<circle cx="569.2" cy="668.3" r="2.45" fill="#a2339f"/>
<circle cx="639.4" cy="556" r="2.45" fill="#a2339f"/>
<circle cx="637.7" cy="560.3" r="2.45" fill="#a2339f"/>
<circle cx="641.9" cy="562.7" r="2.45" fill="#a2339f"/>
<circle cx="635.3" cy="567.3" r="2.45" fill="#a2339f"/>
<circle cx="642.2" cy="578.9" r="2.45" fill="#a2339f"/>
<circle cx="629.9" cy="585.3" r="2.45" fill="#a2339f"/>
<circle cx="628.9" cy="587.4" r="2.45" fill="#a2339f"/>
<circle cx="634.6" cy="586.2" r="2.45" fill="#a2339f"/>
<circle cx="640.9" cy="589.9" r="2.45" fill="#a2339f"/>
<circle cx="633.8" cy="593" r="2.45" fill="#a2339f"/>
<circle cx="640.2" cy="596.6" r="2.45" fill="#a2339f"/>
<circle cx="644.4" cy="599" r="2.45" fill="#a2339f"/>
<circle cx="631.7" cy="601.5" r="2.45" fill="#a2339f"/>
<circle cx="627.4" cy="603.3" r="2.45" fill="#a2339f"/>
<circle cx="642.6" cy="603.3" r="2.45" fill="#a2339f"/>
<circle cx="647" cy="609.3" r="2.45" fill="#a2339f"/>
<circle cx="641.9" cy="613.8" r="2.45" fill="#a2339f"/>
<circle cx="645.9" cy="616.3" r="2.45" fill="#a2339f"/>
<circle cx="633.8" cy="619.4" r="2.45" fill="#a2339f"/>
<circle cx="639.4" cy="619.9" r="2.45" fill="#a2339f"/>
<circle cx="640.8" cy="622.7" r="2.45" fill="#a2339f"/>
<circle cx="634.8" cy="631.9" r="2.45" fill="#a2339f"/>
<circle cx="642.2" cy="631.4" r="2.45" fill="#a2339f"/>
<circle cx="643.3" cy="637.1" r="2.45" fill="#a2339f"/>
<circle cx="638.4" cy="642.2" r="2.45" fill="#a2339f"/>
<circle cx="634.8" cy="645.3" r="2.45" fill="#a2339f"/>
<line x1="169" y1="171.3" x2="169" y2="280.3" stroke="#b89fb8" stroke-width="0.7" stroke-opacity="0.6"/>
<line x1="169" y1="200.8" x2="169" y2="233.3" stroke="#959595" stroke-width="1.35"/>
<line x1="237" y1="134.5" x2="237" y2="248.7" stroke="#b89fb8" stroke-width="0.7" stroke-opacity="0.6"/>
<line x1="237" y1="175" x2="237" y2="210.8" stroke="#959595" stroke-width="1.35"/>
<line x1="305" y1="145.8" x2="305" y2="255.7" stroke="#b89fb8" stroke-width="0.7" stroke-opacity="0.6"/>
<line x1="305" y1="183.3" x2="305" y2="206.7" stroke="#959595" stroke-width="1.35"/>
<line x1="373" y1="132.3" x2="373" y2="277.8" stroke="#b89fb8" stroke-width="0.7" stroke-opacity="0.6"/>
<line x1="373" y1="170.8" x2="373" y2="206.9" stroke="#959595" stroke-width="1.35"/>
<line x1="441" y1="176.2" x2="441" y2="300.9" stroke="#b89fb8" stroke-width="0.7" stroke-opacity="0.6"/>
<line x1="441" y1="206.5" x2="441" y2="235.8" stroke="#959595" stroke-width="1.35"/>
<line x1="509" y1="180.5" x2="509" y2="268.1" stroke="#b89fb8" stroke-width="0.7" stroke-opacity="0.6"/>
<line x1="509" y1="204.4" x2="509" y2="237.4" stroke="#959595" stroke-width="1.35"/>
<line x1="112.4" y1="558.6" x2="112.4" y2="659.3" stroke="#b89fb8" stroke-width="0.7" stroke-opacity="0.6"/>
<line x1="112.4" y1="601.7" x2="112.4" y2="657" stroke="#959595" stroke-width="1.35"/>
<line x1="180.6" y1="546.9" x2="180.6" y2="658.2" stroke="#b89fb8" stroke-width="0.7" stroke-opacity="0.6"/>
<line x1="180.6" y1="573.1" x2="180.6" y2="625.4" stroke="#959595" stroke-width="1.35"/>
<line x1="248.6" y1="564.2" x2="248.6" y2="664.5" stroke="#b89fb8" stroke-width="0.7" stroke-opacity="0.6"/>
<line x1="248.6" y1="605.2" x2="248.6" y2="630.6" stroke="#959595" stroke-width="1.35"/>
<line x1="316.8" y1="497" x2="316.8" y2="648.6" stroke="#b89fb8" stroke-width="0.7" stroke-opacity="0.6"/>
<line x1="316.8" y1="577.3" x2="316.8" y2="620.3" stroke="#959595" stroke-width="1.35"/>
<line x1="502.6" y1="579" x2="502.6" y2="664.9" stroke="#b89fb8" stroke-width="0.7" stroke-opacity="0.6"/>
<line x1="502.6" y1="612.4" x2="502.6" y2="641.3" stroke="#959595" stroke-width="1.35"/>
<line x1="570.6" y1="554.5" x2="570.6" y2="668.3" stroke="#b89fb8" stroke-width="0.7" stroke-opacity="0.6"/>
<line x1="570.6" y1="611.7" x2="570.6" y2="633.3" stroke="#959595" stroke-width="1.35"/>
<line x1="638.4" y1="556" x2="638.4" y2="645.3" stroke="#b89fb8" stroke-width="0.7" stroke-opacity="0.6"/>
<line x1="638.4" y1="587.4" x2="638.4" y2="618.4" stroke="#959595" stroke-width="1.35"/>
<circle cx="169" cy="214.2" r="2.65" fill="#fff" stroke="#8a8a8a" stroke-width="1"/>
<circle cx="237" cy="192.8" r="2.65" fill="#fff" stroke="#8a8a8a" stroke-width="1"/>
<circle cx="305" cy="192" r="2.65" fill="#fff" stroke="#8a8a8a" stroke-width="1"/>
<circle cx="373" cy="183.1" r="2.65" fill="#fff" stroke="#8a8a8a" stroke-width="1"/>
<circle cx="441" cy="216.6" r="2.65" fill="#fff" stroke="#8a8a8a" stroke-width="1"/>
<circle cx="509" cy="224.6" r="2.65" fill="#fff" stroke="#8a8a8a" stroke-width="1"/>
<circle cx="112.4" cy="619.7" r="2.65" fill="#fff" stroke="#8a8a8a" stroke-width="1"/>
<circle cx="180.6" cy="589.5" r="2.65" fill="#fff" stroke="#8a8a8a" stroke-width="1"/>
<circle cx="248.6" cy="621.4" r="2.65" fill="#fff" stroke="#8a8a8a" stroke-width="1"/>
<circle cx="316.8" cy="596.5" r="2.65" fill="#fff" stroke="#8a8a8a" stroke-width="1"/>
<circle cx="502.6" cy="622.4" r="2.65" fill="#fff" stroke="#8a8a8a" stroke-width="1"/>
<circle cx="570.6" cy="623" r="2.65" fill="#fff" stroke="#8a8a8a" stroke-width="1"/>
<circle cx="638.4" cy="601.2" r="2.65" fill="#fff" stroke="#8a8a8a" stroke-width="1"/>
<path d="M133.3,86 H129.5 V328.5 H542.7" fill="none" stroke="#383838" stroke-width="1"/>
<line x1="129.5" y1="116.31" x2="133.3" y2="116.31" stroke="#383838" stroke-width="1"/>
<line x1="129.5" y1="146.62" x2="133.3" y2="146.62" stroke="#383838" stroke-width="1"/>
<line x1="129.5" y1="176.94" x2="133.3" y2="176.94" stroke="#383838" stroke-width="1"/>
<line x1="129.5" y1="207.25" x2="133.3" y2="207.25" stroke="#383838" stroke-width="1"/>
<line x1="129.5" y1="237.56" x2="133.3" y2="237.56" stroke="#383838" stroke-width="1"/>
<line x1="129.5" y1="267.88" x2="133.3" y2="267.88" stroke="#383838" stroke-width="1"/>
<line x1="129.5" y1="298.19" x2="133.3" y2="298.19" stroke="#383838" stroke-width="1"/>
<line x1="169" y1="328.5" x2="169" y2="324.7" stroke="#383838" stroke-width="1"/>
<line x1="237" y1="328.5" x2="237" y2="324.7" stroke="#383838" stroke-width="1"/>
<line x1="305" y1="328.5" x2="305" y2="324.7" stroke="#383838" stroke-width="1"/>
<line x1="373" y1="328.5" x2="373" y2="324.7" stroke="#383838" stroke-width="1"/>
<line x1="441" y1="328.5" x2="441" y2="324.7" stroke="#383838" stroke-width="1"/>
<line x1="509.2" y1="328.5" x2="509.2" y2="324.7" stroke="#383838" stroke-width="1"/>
<text x="119.2" y="96.95" text-anchor="end" font-family='"Liberation Serif", serif' font-size="18.6" fill="#2a2a2a">0.4</text>
<text x="119.2" y="125.79" text-anchor="end" font-family='"Liberation Serif", serif' font-size="18.6" fill="#2a2a2a">0.3</text>
<text x="119.2" y="154.63" text-anchor="end" font-family='"Liberation Serif", serif' font-size="18.6" fill="#2a2a2a">0.2</text>
<text x="119.2" y="183.47" text-anchor="end" font-family='"Liberation Serif", serif' font-size="18.6" fill="#2a2a2a">0.1</text>
<text x="119.2" y="212.31" text-anchor="end" font-family='"Liberation Serif", serif' font-size="18.6" fill="#2a2a2a">0</text>
<text x="119.2" y="241.15" text-anchor="end" font-family='"Liberation Serif", serif' font-size="18.6" fill="#2a2a2a">-0.1</text>
<text x="119.2" y="269.99" text-anchor="end" font-family='"Liberation Serif", serif' font-size="18.6" fill="#2a2a2a">-0.2</text>
<text x="119.2" y="298.83" text-anchor="end" font-family='"Liberation Serif", serif' font-size="18.6" fill="#2a2a2a">-0.3</text>
<text x="119.2" y="327.67" text-anchor="end" font-family='"Liberation Serif", serif' font-size="18.6" fill="#2a2a2a">-0.4</text>
<text transform="translate(78.3,206.7) rotate(-90)" x="0" y="0" text-anchor="middle" font-family='"Liberation Serif", serif' font-size="26.5" fill="#1a1a1a">Beta coefficients</text>
<text x="169" y="349.7" text-anchor="middle" font-family='"Liberation Serif", serif' font-size="16.2" fill="#2a2a2a">AV</text>
<text x="169" y="363.7" text-anchor="middle" font-family='"Liberation Serif", serif' font-size="16.2" fill="#2a2a2a">SU</text>
<text x="169" y="377.7" text-anchor="middle" font-family='"Liberation Serif", serif' font-size="16.2" fill="#2a2a2a">PB</text>
<text x="237" y="349.7" text-anchor="middle" font-family='"Liberation Serif", serif' font-size="16.2" fill="#2a2a2a">A</text>
<text x="237" y="363.7" text-anchor="middle" font-family='"Liberation Serif", serif' font-size="16.2" fill="#2a2a2a">PU</text>
<text x="237" y="377.7" text-anchor="middle" font-family='"Liberation Serif", serif' font-size="16.2" fill="#2a2a2a">EE</text>
<text x="305" y="349.7" text-anchor="middle" font-family='"Liberation Serif", serif' font-size="16.2" fill="#2a2a2a">A</text>
<text x="305" y="363.7" text-anchor="middle" font-family='"Liberation Serif", serif' font-size="16.2" fill="#2a2a2a">SU</text>
<text x="305" y="377.7" text-anchor="middle" font-family='"Liberation Serif", serif' font-size="16.2" fill="#2a2a2a">EE</text>
<text x="373" y="349.7" text-anchor="middle" font-family='"Liberation Serif", serif' font-size="16.2" fill="#2a2a2a">A</text>
<text x="373" y="363.7" text-anchor="middle" font-family='"Liberation Serif", serif' font-size="16.2" fill="#2a2a2a">SU</text>
<text x="373" y="377.7" text-anchor="middle" font-family='"Liberation Serif", serif' font-size="16.2" fill="#2a2a2a">RU</text>
<text x="441" y="349.7" text-anchor="middle" font-family='"Liberation Serif", serif' font-size="16.2" fill="#2a2a2a">A</text>
<text x="441" y="363.7" text-anchor="middle" font-family='"Liberation Serif", serif' font-size="16.2" fill="#2a2a2a">SU</text>
<text x="441" y="377.7" text-anchor="middle" font-family='"Liberation Serif", serif' font-size="16.2" fill="#2a2a2a">RU</text>
<text x="509.2" y="349.7" text-anchor="middle" font-family='"Liberation Serif", serif' font-size="16.2" fill="#2a2a2a">A</text>
<text x="509.2" y="363.7" text-anchor="middle" font-family='"Liberation Serif", serif' font-size="16.2" fill="#2a2a2a">SU</text>
<text x="509.2" y="377.7" text-anchor="middle" font-family='"Liberation Serif", serif' font-size="16.2" fill="#2a2a2a">PB</text>
<path d="M77.3,492.6 H73.5 V726.5 H360" fill="none" stroke="#383838" stroke-width="1"/>
<line x1="73.5" y1="521.84" x2="77.3" y2="521.84" stroke="#383838" stroke-width="1"/>
<line x1="73.5" y1="551.08" x2="77.3" y2="551.08" stroke="#383838" stroke-width="1"/>
<line x1="73.5" y1="580.31" x2="77.3" y2="580.31" stroke="#383838" stroke-width="1"/>
<line x1="73.5" y1="609.55" x2="77.3" y2="609.55" stroke="#383838" stroke-width="1"/>
<line x1="73.5" y1="638.79" x2="77.3" y2="638.79" stroke="#383838" stroke-width="1"/>
<line x1="73.5" y1="668.02" x2="77.3" y2="668.02" stroke="#383838" stroke-width="1"/>
<line x1="73.5" y1="697.26" x2="77.3" y2="697.26" stroke="#383838" stroke-width="1"/>
<line x1="112.2" y1="726.5" x2="112.2" y2="722.7" stroke="#383838" stroke-width="1"/>
<line x1="180.4" y1="726.5" x2="180.4" y2="722.7" stroke="#383838" stroke-width="1"/>
<line x1="248.6" y1="726.5" x2="248.6" y2="722.7" stroke="#383838" stroke-width="1"/>
<line x1="316.8" y1="726.5" x2="316.8" y2="722.7" stroke="#383838" stroke-width="1"/>
<text x="63.0" y="499.55" text-anchor="end" font-family='"Liberation Serif", serif' font-size="18.6" fill="#2a2a2a">0.4</text>
<text x="63.0" y="528.49" text-anchor="end" font-family='"Liberation Serif", serif' font-size="18.6" fill="#2a2a2a">0.3</text>
<text x="63.0" y="557.43" text-anchor="end" font-family='"Liberation Serif", serif' font-size="18.6" fill="#2a2a2a">0.2</text>
<text x="63.0" y="586.37" text-anchor="end" font-family='"Liberation Serif", serif' font-size="18.6" fill="#2a2a2a">0.1</text>
<text x="63.0" y="615.31" text-anchor="end" font-family='"Liberation Serif", serif' font-size="18.6" fill="#2a2a2a">0</text>
<text x="63.0" y="644.25" text-anchor="end" font-family='"Liberation Serif", serif' font-size="18.6" fill="#2a2a2a">-0.1</text>
<text x="63.0" y="673.19" text-anchor="end" font-family='"Liberation Serif", serif' font-size="18.6" fill="#2a2a2a">-0.2</text>
<text x="63.0" y="702.13" text-anchor="end" font-family='"Liberation Serif", serif' font-size="18.6" fill="#2a2a2a">-0.3</text>
<text x="63.0" y="731.07" text-anchor="end" font-family='"Liberation Serif", serif' font-size="18.6" fill="#2a2a2a">-0.4</text>
<text transform="translate(22.3,609.5) rotate(-90)" x="0" y="0" text-anchor="middle" font-family='"Liberation Serif", serif' font-size="26.5" fill="#1a1a1a">Beta coefficients</text>
<text x="112.2" y="747.7" text-anchor="middle" font-family='"Liberation Serif", serif' font-size="16.2" fill="#2a2a2a">AV</text>
<text x="112.2" y="761.7" text-anchor="middle" font-family='"Liberation Serif", serif' font-size="16.2" fill="#2a2a2a">SU</text>
<text x="112.2" y="775.7" text-anchor="middle" font-family='"Liberation Serif", serif' font-size="16.2" fill="#2a2a2a">EE</text>
<text x="180.4" y="747.7" text-anchor="middle" font-family='"Liberation Serif", serif' font-size="16.2" fill="#2a2a2a">AV</text>
<text x="180.4" y="761.7" text-anchor="middle" font-family='"Liberation Serif", serif' font-size="16.2" fill="#2a2a2a">SU</text>
<text x="180.4" y="775.7" text-anchor="middle" font-family='"Liberation Serif", serif' font-size="16.2" fill="#2a2a2a">EE</text>
<text x="248.6" y="747.7" text-anchor="middle" font-family='"Liberation Serif", serif' font-size="16.2" fill="#2a2a2a">AV</text>
<text x="248.6" y="761.7" text-anchor="middle" font-family='"Liberation Serif", serif' font-size="16.2" fill="#2a2a2a">PU</text>
<text x="248.6" y="775.7" text-anchor="middle" font-family='"Liberation Serif", serif' font-size="16.2" fill="#2a2a2a">RU</text>
<text x="316.8" y="747.7" text-anchor="middle" font-family='"Liberation Serif", serif' font-size="16.2" fill="#2a2a2a">AV</text>
<text x="316.8" y="761.7" text-anchor="middle" font-family='"Liberation Serif", serif' font-size="16.2" fill="#2a2a2a">SU</text>
<text x="316.8" y="775.7" text-anchor="middle" font-family='"Liberation Serif", serif' font-size="16.2" fill="#2a2a2a">PB</text>
<path d="M467.3,496.3 H463.5 V726.5 H682.1" fill="none" stroke="#383838" stroke-width="1"/>
<line x1="463.5" y1="525.08" x2="467.3" y2="525.08" stroke="#383838" stroke-width="1"/>
<line x1="463.5" y1="553.85" x2="467.3" y2="553.85" stroke="#383838" stroke-width="1"/>
<line x1="463.5" y1="582.62" x2="467.3" y2="582.62" stroke="#383838" stroke-width="1"/>
<line x1="463.5" y1="611.40" x2="467.3" y2="611.40" stroke="#383838" stroke-width="1"/>
<line x1="463.5" y1="640.17" x2="467.3" y2="640.17" stroke="#383838" stroke-width="1"/>
<line x1="463.5" y1="668.95" x2="467.3" y2="668.95" stroke="#383838" stroke-width="1"/>
<line x1="463.5" y1="697.73" x2="467.3" y2="697.73" stroke="#383838" stroke-width="1"/>
<line x1="502.7" y1="726.5" x2="502.7" y2="722.7" stroke="#383838" stroke-width="1"/>
<line x1="570.6" y1="726.5" x2="570.6" y2="722.7" stroke="#383838" stroke-width="1"/>
<line x1="638.4" y1="726.5" x2="638.4" y2="722.7" stroke="#383838" stroke-width="1"/>
<text x="452.7" y="501.65" text-anchor="end" font-family='"Liberation Serif", serif' font-size="18.6" fill="#2a2a2a">0.4</text>
<text x="452.7" y="530.40" text-anchor="end" font-family='"Liberation Serif", serif' font-size="18.6" fill="#2a2a2a">0.3</text>
<text x="452.7" y="559.15" text-anchor="end" font-family='"Liberation Serif", serif' font-size="18.6" fill="#2a2a2a">0.2</text>
<text x="452.7" y="587.90" text-anchor="end" font-family='"Liberation Serif", serif' font-size="18.6" fill="#2a2a2a">0.1</text>
<text x="452.7" y="616.65" text-anchor="end" font-family='"Liberation Serif", serif' font-size="18.6" fill="#2a2a2a">0</text>
<text x="452.7" y="645.40" text-anchor="end" font-family='"Liberation Serif", serif' font-size="18.6" fill="#2a2a2a">-0.1</text>
<text x="452.7" y="674.15" text-anchor="end" font-family='"Liberation Serif", serif' font-size="18.6" fill="#2a2a2a">-0.2</text>
<text x="452.7" y="702.90" text-anchor="end" font-family='"Liberation Serif", serif' font-size="18.6" fill="#2a2a2a">-0.3</text>
<text x="452.7" y="731.65" text-anchor="end" font-family='"Liberation Serif", serif' font-size="18.6" fill="#2a2a2a">-0.4</text>
<text transform="translate(412,611) rotate(-90)" x="0" y="0" text-anchor="middle" font-family='"Liberation Serif", serif' font-size="26.5" fill="#1a1a1a">Beta coefficients</text>
<text x="502.7" y="747.7" text-anchor="middle" font-family='"Liberation Serif", serif' font-size="16.2" fill="#2a2a2a">AV</text>
<text x="502.7" y="761.7" text-anchor="middle" font-family='"Liberation Serif", serif' font-size="16.2" fill="#2a2a2a">SU</text>
<text x="502.7" y="775.7" text-anchor="middle" font-family='"Liberation Serif", serif' font-size="16.2" fill="#2a2a2a">RU</text>
<text x="570.6" y="747.7" text-anchor="middle" font-family='"Liberation Serif", serif' font-size="16.2" fill="#2a2a2a">AV</text>
<text x="570.6" y="761.7" text-anchor="middle" font-family='"Liberation Serif", serif' font-size="16.2" fill="#2a2a2a">SU</text>
<text x="570.6" y="775.7" text-anchor="middle" font-family='"Liberation Serif", serif' font-size="16.2" fill="#2a2a2a">RU</text>
<text x="638.4" y="747.7" text-anchor="middle" font-family='"Liberation Serif", serif' font-size="16.2" fill="#2a2a2a">AV</text>
<text x="638.4" y="761.7" text-anchor="middle" font-family='"Liberation Serif", serif' font-size="16.2" fill="#2a2a2a">SU</text>
<text x="638.4" y="775.7" text-anchor="middle" font-family='"Liberation Serif", serif' font-size="16.2" fill="#2a2a2a">PB</text>
<path d="M164.80,37.30 L169.00,33.10 L173.20,37.30" fill="none" stroke="#333" stroke-width="0.85" stroke-linejoin="round"/>
<rect x="144.50" y="56.00" width="2.6" height="9.4" rx="0.5" fill="#fff" stroke="#3a3a3a" stroke-width="0.75"/>
<rect x="190.90" y="56.00" width="2.6" height="9.4" rx="0.5" fill="#fff" stroke="#3a3a3a" stroke-width="0.75"/><clipPath id="hc0"><circle cx="169" cy="59.1" r="22.3"/></clipPath><g clip-path="url(#hc0)"><g filter="url(#blur2)"><rect x="139" y="29.1" width="60" height="60" fill="#4a66ca"/><ellipse cx="167.3" cy="59.4" rx="24" ry="23" fill="url(#gA1)"/></g><circle cx="169.0" cy="46.0" r="0.98" fill="#111"/><circle cx="172.9" cy="46.6" r="0.98" fill="#111"/><circle cx="176.4" cy="48.3" r="0.98" fill="#111"/><circle cx="179.2" cy="50.9" r="0.98" fill="#111"/><circle cx="181.2" cy="54.3" r="0.98" fill="#111"/><circle cx="182.1" cy="58.1" r="0.98" fill="#111"/><circle cx="181.8" cy="62.0" r="0.98" fill="#111"/><circle cx="180.3" cy="65.6" r="0.98" fill="#111"/><circle cx="177.9" cy="68.7" r="0.98" fill="#111"/><circle cx="174.7" cy="70.9" r="0.98" fill="#111"/><circle cx="171.0" cy="72.0" r="0.98" fill="#111"/><circle cx="167.0" cy="72.0" r="0.98" fill="#111"/><circle cx="163.3" cy="70.9" r="0.98" fill="#111"/><circle cx="161.6" cy="48.3" r="0.98" fill="#111"/><circle cx="165.1" cy="46.6" r="0.98" fill="#111"/><circle cx="170.9" cy="42.8" r="0.98" fill="#111"/><circle cx="174.6" cy="43.7" r="0.98" fill="#111"/><circle cx="178.0" cy="45.4" r="0.98" fill="#111"/><circle cx="180.9" cy="47.9" r="0.98" fill="#111"/><circle cx="183.2" cy="50.9" r="0.98" fill="#111"/><circle cx="184.7" cy="54.4" r="0.98" fill="#111"/><circle cx="185.3" cy="58.1" r="0.98" fill="#111"/><circle cx="185.1" cy="61.9" r="0.98" fill="#111"/><circle cx="184.0" cy="65.6" r="0.98" fill="#111"/><circle cx="182.1" cy="68.9" r="0.98" fill="#111"/><circle cx="179.5" cy="71.6" r="0.98" fill="#111"/><circle cx="176.3" cy="73.7" r="0.98" fill="#111"/><circle cx="172.8" cy="75.0" r="0.98" fill="#111"/><circle cx="169.0" cy="75.5" r="0.98" fill="#111"/><circle cx="165.2" cy="75.0" r="0.98" fill="#111"/><circle cx="161.7" cy="73.7" r="0.98" fill="#111"/><circle cx="158.5" cy="71.6" r="0.98" fill="#111"/><circle cx="155.9" cy="68.9" r="0.98" fill="#111"/><circle cx="154.0" cy="65.6" r="0.98" fill="#111"/><circle cx="152.9" cy="61.9" r="0.98" fill="#111"/><circle cx="152.7" cy="58.1" r="0.98" fill="#111"/><circle cx="153.3" cy="54.4" r="0.98" fill="#111"/><circle cx="154.8" cy="50.9" r="0.98" fill="#111"/><circle cx="157.1" cy="47.9" r="0.98" fill="#111"/><circle cx="167.1" cy="42.8" r="0.98" fill="#111"/><circle cx="169.0" cy="39.5" r="0.98" fill="#111"/><circle cx="172.8" cy="39.8" r="0.98" fill="#111"/><circle cx="176.5" cy="41.0" r="0.98" fill="#111"/><circle cx="179.9" cy="42.8" r="0.98" fill="#111"/><circle cx="182.9" cy="45.2" r="0.98" fill="#111"/><circle cx="185.3" cy="48.2" r="0.98" fill="#111"/><circle cx="187.1" cy="51.6" r="0.98" fill="#111"/><circle cx="188.3" cy="55.3" r="0.98" fill="#111"/><circle cx="188.6" cy="59.1" r="0.98" fill="#111"/><circle cx="188.3" cy="62.9" r="0.98" fill="#111"/><circle cx="187.1" cy="66.6" r="0.98" fill="#111"/><circle cx="185.3" cy="70.0" r="0.98" fill="#111"/><circle cx="182.9" cy="73.0" r="0.98" fill="#111"/><circle cx="179.9" cy="75.4" r="0.98" fill="#111"/><circle cx="176.5" cy="77.2" r="0.98" fill="#111"/><circle cx="172.8" cy="78.4" r="0.98" fill="#111"/><circle cx="169.0" cy="78.7" r="0.98" fill="#111"/><circle cx="165.2" cy="78.4" r="0.98" fill="#111"/><circle cx="161.5" cy="77.2" r="0.98" fill="#111"/><circle cx="158.1" cy="75.4" r="0.98" fill="#111"/><circle cx="155.1" cy="73.0" r="0.98" fill="#111"/><circle cx="152.7" cy="70.0" r="0.98" fill="#111"/><circle cx="150.9" cy="66.6" r="0.98" fill="#111"/><circle cx="149.7" cy="62.9" r="0.98" fill="#111"/><circle cx="149.4" cy="59.1" r="0.98" fill="#111"/><circle cx="149.7" cy="55.3" r="0.98" fill="#111"/><circle cx="150.9" cy="51.6" r="0.98" fill="#111"/><circle cx="152.7" cy="48.2" r="0.98" fill="#111"/><circle cx="155.1" cy="45.2" r="0.98" fill="#111"/></g><circle cx="169" cy="59.1" r="22.3" fill="none" stroke="#262626" stroke-width="0.9"/>
<path d="M232.80,37.30 L237.00,33.10 L241.20,37.30" fill="none" stroke="#333" stroke-width="0.85" stroke-linejoin="round"/>
<rect x="212.50" y="56.00" width="2.6" height="9.4" rx="0.5" fill="#fff" stroke="#3a3a3a" stroke-width="0.75"/>
<rect x="258.90" y="56.00" width="2.6" height="9.4" rx="0.5" fill="#fff" stroke="#3a3a3a" stroke-width="0.75"/><clipPath id="hc1"><circle cx="237" cy="59.1" r="22.3"/></clipPath><g clip-path="url(#hc1)"><g filter="url(#blur)"><rect x="207" y="29.1" width="60" height="60" fill="#34b5a6"/><ellipse cx="224.0" cy="51.1" rx="7" ry="8" fill="#2aaec0" fill-opacity="1.0"/><ellipse cx="240.0" cy="45.1" rx="9" ry="6" fill="#6cc276" fill-opacity="1.0"/><ellipse cx="249.0" cy="49.1" rx="6" ry="5" fill="#58c084" fill-opacity="1.0"/><ellipse cx="230.5" cy="54.6" rx="6" ry="5" fill="#9cc850" fill-opacity="1.0"/><ellipse cx="246.0" cy="55.3" rx="7" ry="5" fill="#b4cc3c" fill-opacity="1.0"/><ellipse cx="240.0" cy="58.1" rx="6" ry="4" fill="#8cc65a" fill-opacity="1.0"/><ellipse cx="237.0" cy="65.1" rx="22" ry="3.5" fill="#2cb4b8" fill-opacity="1.0"/><ellipse cx="237.0" cy="71.1" rx="22" ry="4" fill="#1ea8dc" fill-opacity="1.0"/><ellipse cx="225.0" cy="74.1" rx="9" ry="7" fill="#4060cc" fill-opacity="1.0"/><ellipse cx="249.0" cy="74.1" rx="8" ry="6" fill="#3f66d0" fill-opacity="1.0"/><ellipse cx="237.0" cy="80.1" rx="18" ry="4.5" fill="#4458c8" fill-opacity="1.0"/></g><circle cx="227.4" cy="52.9" r="1.05" fill="#111"/><circle cx="229.8" cy="50.8" r="1.05" fill="#111"/><circle cx="233.7" cy="51.0" r="1.05" fill="#111"/><circle cx="228.8" cy="55.0" r="1.05" fill="#111"/><circle cx="231.1" cy="53.1" r="1.05" fill="#111"/><circle cx="233.0" cy="55.3" r="1.05" fill="#111"/><circle cx="230.5" cy="57.4" r="1.05" fill="#111"/></g><circle cx="237" cy="59.1" r="22.3" fill="none" stroke="#262626" stroke-width="0.9"/>
<path d="M300.80,37.30 L305.00,33.10 L309.20,37.30" fill="none" stroke="#333" stroke-width="0.85" stroke-linejoin="round"/>
<rect x="280.50" y="56.00" width="2.6" height="9.4" rx="0.5" fill="#fff" stroke="#3a3a3a" stroke-width="0.75"/>
<rect x="326.90" y="56.00" width="2.6" height="9.4" rx="0.5" fill="#fff" stroke="#3a3a3a" stroke-width="0.75"/><clipPath id="hc2"><circle cx="305" cy="59.1" r="22.3"/></clipPath><g clip-path="url(#hc2)"><g filter="url(#blur)"><rect x="275" y="29.1" width="60" height="60" fill="#22b2c4"/><ellipse cx="305.0" cy="40.1" rx="22" ry="5" fill="#2cb6b8" fill-opacity="1.0"/><ellipse cx="305.0" cy="51.6" rx="7" ry="3.5" fill="#3094e0" fill-opacity="1.0"/><ellipse cx="301.0" cy="54.1" rx="4" ry="3" fill="#348ade" fill-opacity="1.0"/><ellipse cx="309.5" cy="53.6" rx="4" ry="3" fill="#3a82dc" fill-opacity="1.0"/><ellipse cx="305.0" cy="59.1" rx="5" ry="3" fill="#1eaad8" fill-opacity="1.0"/><ellipse cx="297.5" cy="57.4" rx="5" ry="3" fill="#4a62d0" fill-opacity="1.0"/><ellipse cx="312.5" cy="56.7" rx="6" ry="3.8" fill="#4858cc" fill-opacity="1.0"/><ellipse cx="305.0" cy="68.1" rx="24" ry="4" fill="#30b8a8" fill-opacity="1.0"/><ellipse cx="305.0" cy="75.1" rx="26" ry="8" fill="#62c076" fill-opacity="1.0"/><ellipse cx="300.6" cy="71.4" rx="9" ry="6" fill="#a8c840" fill-opacity="1.0"/><ellipse cx="311.0" cy="73.1" rx="6" ry="4" fill="#88c458" fill-opacity="1.0"/></g><circle cx="305.0" cy="63.7" r="0.98" fill="#111"/><circle cx="308.9" cy="63.7" r="0.98" fill="#111"/><circle cx="303.1" cy="65.8" r="0.98" fill="#111"/><circle cx="306.9" cy="65.8" r="0.98" fill="#111"/><circle cx="310.9" cy="65.8" r="0.98" fill="#111"/><circle cx="297.2" cy="67.9" r="0.98" fill="#111"/><circle cx="301.1" cy="67.9" r="0.98" fill="#111"/><circle cx="305.0" cy="67.9" r="0.98" fill="#111"/><circle cx="308.9" cy="67.9" r="0.98" fill="#111"/><circle cx="312.8" cy="67.9" r="0.98" fill="#111"/><circle cx="316.7" cy="67.9" r="0.98" fill="#111"/><circle cx="295.2" cy="70.0" r="0.98" fill="#111"/><circle cx="299.1" cy="70.0" r="0.98" fill="#111"/><circle cx="303.1" cy="70.0" r="0.98" fill="#111"/><circle cx="306.9" cy="70.0" r="0.98" fill="#111"/><circle cx="310.9" cy="70.0" r="0.98" fill="#111"/><circle cx="314.8" cy="70.0" r="0.98" fill="#111"/><circle cx="318.6" cy="70.0" r="0.98" fill="#111"/><circle cx="289.4" cy="72.1" r="0.98" fill="#111"/><circle cx="293.3" cy="72.1" r="0.98" fill="#111"/><circle cx="297.2" cy="72.1" r="0.98" fill="#111"/><circle cx="301.1" cy="72.1" r="0.98" fill="#111"/><circle cx="305.0" cy="72.1" r="0.98" fill="#111"/><circle cx="308.9" cy="72.1" r="0.98" fill="#111"/><circle cx="312.8" cy="72.1" r="0.98" fill="#111"/><circle cx="316.7" cy="72.1" r="0.98" fill="#111"/><circle cx="320.6" cy="72.1" r="0.98" fill="#111"/><circle cx="291.4" cy="74.2" r="0.98" fill="#111"/><circle cx="295.2" cy="74.2" r="0.98" fill="#111"/><circle cx="299.1" cy="74.2" r="0.98" fill="#111"/><circle cx="303.1" cy="74.2" r="0.98" fill="#111"/><circle cx="306.9" cy="74.2" r="0.98" fill="#111"/><circle cx="310.9" cy="74.2" r="0.98" fill="#111"/><circle cx="314.8" cy="74.2" r="0.98" fill="#111"/><circle cx="318.6" cy="74.2" r="0.98" fill="#111"/><circle cx="293.3" cy="76.3" r="0.98" fill="#111"/><circle cx="297.2" cy="76.3" r="0.98" fill="#111"/><circle cx="301.1" cy="76.3" r="0.98" fill="#111"/><circle cx="305.0" cy="76.3" r="0.98" fill="#111"/><circle cx="308.9" cy="76.3" r="0.98" fill="#111"/><circle cx="312.8" cy="76.3" r="0.98" fill="#111"/><circle cx="316.7" cy="76.3" r="0.98" fill="#111"/><circle cx="299.1" cy="78.4" r="0.98" fill="#111"/><circle cx="303.1" cy="78.4" r="0.98" fill="#111"/><circle cx="306.9" cy="78.4" r="0.98" fill="#111"/><circle cx="310.9" cy="78.4" r="0.98" fill="#111"/></g><circle cx="305" cy="59.1" r="22.3" fill="none" stroke="#262626" stroke-width="0.9"/>
<path d="M368.80,37.30 L373.00,33.10 L377.20,37.30" fill="none" stroke="#333" stroke-width="0.85" stroke-linejoin="round"/>
<rect x="348.50" y="56.00" width="2.6" height="9.4" rx="0.5" fill="#fff" stroke="#3a3a3a" stroke-width="0.75"/>
<rect x="394.90" y="56.00" width="2.6" height="9.4" rx="0.5" fill="#fff" stroke="#3a3a3a" stroke-width="0.75"/><clipPath id="hc3"><circle cx="373" cy="59.1" r="22.3"/></clipPath><g clip-path="url(#hc3)"><g filter="url(#blur)"><rect x="343" y="29.1" width="60" height="60" fill="#2cb4b8"/><ellipse cx="373.0" cy="42.1" rx="22" ry="5" fill="#2ab6b4" fill-opacity="1.0"/><ellipse cx="375.0" cy="55.1" rx="14" ry="9" fill="#2a98e0" fill-opacity="1.0"/><ellipse cx="380.5" cy="56.1" rx="6" ry="4" fill="#4476d8" fill-opacity="1.0"/><ellipse cx="371.0" cy="53.1" rx="5" ry="3" fill="#3a86e0" fill-opacity="1.0"/><ellipse cx="373.0" cy="66.1" rx="22" ry="3" fill="#30b6b0" fill-opacity="1.0"/><ellipse cx="373.0" cy="73.1" rx="26" ry="8" fill="#66c272" fill-opacity="1.0"/><ellipse cx="371.4" cy="71.4" rx="11" ry="5.5" fill="#a8c83c" fill-opacity="1.0"/></g><circle cx="374.9" cy="44.5" r="0.98" fill="#111"/><circle cx="378.9" cy="44.5" r="0.98" fill="#111"/><circle cx="373.0" cy="46.6" r="0.98" fill="#111"/><circle cx="376.9" cy="46.6" r="0.98" fill="#111"/><circle cx="371.1" cy="48.7" r="0.98" fill="#111"/><circle cx="374.9" cy="48.7" r="0.98" fill="#111"/><circle cx="378.9" cy="48.7" r="0.98" fill="#111"/><circle cx="365.2" cy="50.8" r="0.98" fill="#111"/><circle cx="369.1" cy="50.8" r="0.98" fill="#111"/><circle cx="373.0" cy="50.8" r="0.98" fill="#111"/><circle cx="376.9" cy="50.8" r="0.98" fill="#111"/><circle cx="380.8" cy="50.8" r="0.98" fill="#111"/><circle cx="367.1" cy="52.9" r="0.98" fill="#111"/><circle cx="371.1" cy="52.9" r="0.98" fill="#111"/><circle cx="374.9" cy="52.9" r="0.98" fill="#111"/><circle cx="378.9" cy="52.9" r="0.98" fill="#111"/><circle cx="382.8" cy="52.9" r="0.98" fill="#111"/><circle cx="386.6" cy="52.9" r="0.98" fill="#111"/><circle cx="365.2" cy="55.0" r="0.98" fill="#111"/><circle cx="369.1" cy="55.0" r="0.98" fill="#111"/><circle cx="373.0" cy="55.0" r="0.98" fill="#111"/><circle cx="376.9" cy="55.0" r="0.98" fill="#111"/><circle cx="380.8" cy="55.0" r="0.98" fill="#111"/><circle cx="384.7" cy="55.0" r="0.98" fill="#111"/><circle cx="388.6" cy="55.0" r="0.98" fill="#111"/><circle cx="363.2" cy="57.1" r="0.98" fill="#111"/><circle cx="367.1" cy="57.1" r="0.98" fill="#111"/><circle cx="371.1" cy="57.1" r="0.98" fill="#111"/><circle cx="374.9" cy="57.1" r="0.98" fill="#111"/><circle cx="378.9" cy="57.1" r="0.98" fill="#111"/><circle cx="382.8" cy="57.1" r="0.98" fill="#111"/><circle cx="386.6" cy="57.1" r="0.98" fill="#111"/><circle cx="365.2" cy="59.2" r="0.98" fill="#111"/><circle cx="369.1" cy="59.2" r="0.98" fill="#111"/><circle cx="373.0" cy="59.2" r="0.98" fill="#111"/><circle cx="376.9" cy="59.2" r="0.98" fill="#111"/><circle cx="380.8" cy="59.2" r="0.98" fill="#111"/><circle cx="384.7" cy="59.2" r="0.98" fill="#111"/><circle cx="388.6" cy="59.2" r="0.98" fill="#111"/><circle cx="363.2" cy="61.3" r="0.98" fill="#111"/><circle cx="367.1" cy="61.3" r="0.98" fill="#111"/><circle cx="371.1" cy="61.3" r="0.98" fill="#111"/><circle cx="374.9" cy="61.3" r="0.98" fill="#111"/><circle cx="378.9" cy="61.3" r="0.98" fill="#111"/><circle cx="382.8" cy="61.3" r="0.98" fill="#111"/><circle cx="365.2" cy="63.4" r="0.98" fill="#111"/><circle cx="376.9" cy="63.4" r="0.98" fill="#111"/><circle cx="380.8" cy="63.4" r="0.98" fill="#111"/></g><circle cx="373" cy="59.1" r="22.3" fill="none" stroke="#262626" stroke-width="0.9"/>
<path d="M436.80,37.30 L441.00,33.10 L445.20,37.30" fill="none" stroke="#333" stroke-width="0.85" stroke-linejoin="round"/>
<rect x="416.50" y="56.00" width="2.6" height="9.4" rx="0.5" fill="#fff" stroke="#3a3a3a" stroke-width="0.75"/>
<rect x="462.90" y="56.00" width="2.6" height="9.4" rx="0.5" fill="#fff" stroke="#3a3a3a" stroke-width="0.75"/><clipPath id="hc4"><circle cx="441" cy="59.1" r="22.3"/></clipPath><g clip-path="url(#hc4)"><g filter="url(#blur2)"><rect x="411" y="29.1" width="60" height="60" fill="#4864cc"/><ellipse cx="441.6" cy="61.300000000000004" rx="27" ry="32" fill="url(#gA5)"/></g><circle cx="425.1" cy="64.8" r="1.05" fill="#111"/><circle cx="420.9" cy="65.8" r="1.05" fill="#111"/><circle cx="424.0" cy="68.3" r="1.05" fill="#111"/><circle cx="427.5" cy="69.5" r="1.05" fill="#111"/><circle cx="423.7" cy="72.1" r="1.05" fill="#111"/></g><circle cx="441" cy="59.1" r="22.3" fill="none" stroke="#262626" stroke-width="0.9"/>
<path d="M504.80,37.30 L509.00,33.10 L513.20,37.30" fill="none" stroke="#333" stroke-width="0.85" stroke-linejoin="round"/>
<rect x="484.50" y="56.00" width="2.6" height="9.4" rx="0.5" fill="#fff" stroke="#3a3a3a" stroke-width="0.75"/>
<rect x="530.90" y="56.00" width="2.6" height="9.4" rx="0.5" fill="#fff" stroke="#3a3a3a" stroke-width="0.75"/><clipPath id="hc5"><circle cx="509" cy="59.1" r="22.3"/></clipPath><g clip-path="url(#hc5)"><g filter="url(#blur)"><rect x="479" y="29.1" width="60" height="60" fill="#22b2c4"/><ellipse cx="509.0" cy="40.1" rx="22" ry="5" fill="#2cb6b8" fill-opacity="1.0"/><ellipse cx="509.0" cy="51.6" rx="7" ry="3.5" fill="#3094e0" fill-opacity="1.0"/><ellipse cx="505.0" cy="54.1" rx="4" ry="3" fill="#348ade" fill-opacity="1.0"/><ellipse cx="513.5" cy="53.6" rx="4" ry="3" fill="#3a82dc" fill-opacity="1.0"/><ellipse cx="509.0" cy="59.1" rx="5" ry="3" fill="#1eaad8" fill-opacity="1.0"/><ellipse cx="501.5" cy="57.4" rx="5" ry="3" fill="#4a62d0" fill-opacity="1.0"/><ellipse cx="516.5" cy="56.7" rx="6" ry="3.8" fill="#4858cc" fill-opacity="1.0"/><ellipse cx="509.0" cy="68.1" rx="24" ry="4" fill="#30b8a8" fill-opacity="1.0"/><ellipse cx="509.0" cy="75.1" rx="26" ry="8" fill="#62c076" fill-opacity="1.0"/><ellipse cx="504.6" cy="71.4" rx="9" ry="6" fill="#a8c840" fill-opacity="1.0"/><ellipse cx="515.0" cy="73.1" rx="6" ry="4" fill="#88c458" fill-opacity="1.0"/></g><circle cx="509.0" cy="63.7" r="0.98" fill="#111"/><circle cx="512.9" cy="63.7" r="0.98" fill="#111"/><circle cx="507.1" cy="65.8" r="0.98" fill="#111"/><circle cx="510.9" cy="65.8" r="0.98" fill="#111"/><circle cx="514.9" cy="65.8" r="0.98" fill="#111"/><circle cx="501.2" cy="67.9" r="0.98" fill="#111"/><circle cx="505.1" cy="67.9" r="0.98" fill="#111"/><circle cx="509.0" cy="67.9" r="0.98" fill="#111"/><circle cx="512.9" cy="67.9" r="0.98" fill="#111"/><circle cx="516.8" cy="67.9" r="0.98" fill="#111"/><circle cx="520.7" cy="67.9" r="0.98" fill="#111"/><circle cx="499.2" cy="70.0" r="0.98" fill="#111"/><circle cx="503.1" cy="70.0" r="0.98" fill="#111"/><circle cx="507.1" cy="70.0" r="0.98" fill="#111"/><circle cx="510.9" cy="70.0" r="0.98" fill="#111"/><circle cx="514.9" cy="70.0" r="0.98" fill="#111"/><circle cx="518.8" cy="70.0" r="0.98" fill="#111"/><circle cx="522.6" cy="70.0" r="0.98" fill="#111"/><circle cx="493.4" cy="72.1" r="0.98" fill="#111"/><circle cx="497.3" cy="72.1" r="0.98" fill="#111"/><circle cx="501.2" cy="72.1" r="0.98" fill="#111"/><circle cx="505.1" cy="72.1" r="0.98" fill="#111"/><circle cx="509.0" cy="72.1" r="0.98" fill="#111"/><circle cx="512.9" cy="72.1" r="0.98" fill="#111"/><circle cx="516.8" cy="72.1" r="0.98" fill="#111"/><circle cx="520.7" cy="72.1" r="0.98" fill="#111"/><circle cx="524.6" cy="72.1" r="0.98" fill="#111"/><circle cx="495.4" cy="74.2" r="0.98" fill="#111"/><circle cx="499.2" cy="74.2" r="0.98" fill="#111"/><circle cx="503.1" cy="74.2" r="0.98" fill="#111"/><circle cx="507.1" cy="74.2" r="0.98" fill="#111"/><circle cx="510.9" cy="74.2" r="0.98" fill="#111"/><circle cx="514.9" cy="74.2" r="0.98" fill="#111"/><circle cx="518.8" cy="74.2" r="0.98" fill="#111"/><circle cx="522.6" cy="74.2" r="0.98" fill="#111"/><circle cx="497.3" cy="76.3" r="0.98" fill="#111"/><circle cx="501.2" cy="76.3" r="0.98" fill="#111"/><circle cx="505.1" cy="76.3" r="0.98" fill="#111"/><circle cx="509.0" cy="76.3" r="0.98" fill="#111"/><circle cx="512.9" cy="76.3" r="0.98" fill="#111"/><circle cx="516.8" cy="76.3" r="0.98" fill="#111"/><circle cx="520.7" cy="76.3" r="0.98" fill="#111"/><circle cx="503.1" cy="78.4" r="0.98" fill="#111"/><circle cx="507.1" cy="78.4" r="0.98" fill="#111"/><circle cx="510.9" cy="78.4" r="0.98" fill="#111"/><circle cx="514.9" cy="78.4" r="0.98" fill="#111"/></g><circle cx="509" cy="59.1" r="22.3" fill="none" stroke="#262626" stroke-width="0.9"/>
<path d="M108.40,444.60 L112.60,440.40 L116.80,444.60" fill="none" stroke="#333" stroke-width="0.85" stroke-linejoin="round"/>
<rect x="88.10" y="463.30" width="2.6" height="9.4" rx="0.5" fill="#fff" stroke="#3a3a3a" stroke-width="0.75"/>
<rect x="134.50" y="463.30" width="2.6" height="9.4" rx="0.5" fill="#fff" stroke="#3a3a3a" stroke-width="0.75"/><clipPath id="hc6"><circle cx="112.6" cy="466.4" r="22.3"/></clipPath><g clip-path="url(#hc6)"><g filter="url(#blur)"><rect x="82.6" y="436.4" width="60" height="60" fill="#4cbc8c"/><ellipse cx="107.2" cy="452.5" rx="7" ry="5" fill="#28b4c0" fill-opacity="1.0"/><ellipse cx="119.2" cy="459.5" rx="6" ry="5" fill="#2eb6b8" fill-opacity="1.0"/><ellipse cx="125.5" cy="449.7" rx="6" ry="5" fill="#80c466" fill-opacity="1.0"/><ellipse cx="101.6" cy="460.4" rx="4" ry="4" fill="#74c270" fill-opacity="1.0"/><ellipse cx="110.0" cy="468.6" rx="9" ry="6" fill="#c8c444" fill-opacity="1.0"/><ellipse cx="121.9" cy="477.1" rx="5" ry="6" fill="#d0c23a" fill-opacity="1.0"/><ellipse cx="97.6" cy="477.1" rx="5" ry="5" fill="#b0c840" fill-opacity="1.0"/><ellipse cx="109.3" cy="482.7" rx="7" ry="4" fill="#2ab4b4" fill-opacity="1.0"/><ellipse cx="98.6" cy="465.4" rx="4" ry="6" fill="#34b4b0" fill-opacity="1.0"/></g><circle cx="108.4" cy="462.2" r="0.98" fill="#111"/><circle cx="112.6" cy="462.2" r="0.98" fill="#111"/><circle cx="106.3" cy="464.3" r="0.98" fill="#111"/><circle cx="110.5" cy="464.3" r="0.98" fill="#111"/><circle cx="114.7" cy="464.3" r="0.98" fill="#111"/><circle cx="118.9" cy="464.3" r="0.98" fill="#111"/><circle cx="104.2" cy="466.4" r="0.98" fill="#111"/><circle cx="108.4" cy="466.4" r="0.98" fill="#111"/><circle cx="112.6" cy="466.4" r="0.98" fill="#111"/><circle cx="116.8" cy="466.4" r="0.98" fill="#111"/><circle cx="121.0" cy="466.4" r="0.98" fill="#111"/><circle cx="102.1" cy="468.5" r="0.98" fill="#111"/><circle cx="106.3" cy="468.5" r="0.98" fill="#111"/><circle cx="110.5" cy="468.5" r="0.98" fill="#111"/><circle cx="114.7" cy="468.5" r="0.98" fill="#111"/><circle cx="118.9" cy="468.5" r="0.98" fill="#111"/><circle cx="123.1" cy="468.5" r="0.98" fill="#111"/><circle cx="104.2" cy="470.6" r="0.98" fill="#111"/><circle cx="108.4" cy="470.6" r="0.98" fill="#111"/><circle cx="112.6" cy="470.6" r="0.98" fill="#111"/><circle cx="116.8" cy="470.6" r="0.98" fill="#111"/><circle cx="121.0" cy="470.6" r="0.98" fill="#111"/><circle cx="106.3" cy="472.7" r="0.98" fill="#111"/><circle cx="110.5" cy="472.7" r="0.98" fill="#111"/><circle cx="114.7" cy="472.7" r="0.98" fill="#111"/><circle cx="118.9" cy="472.7" r="0.98" fill="#111"/><circle cx="123.1" cy="472.7" r="0.98" fill="#111"/><circle cx="108.4" cy="474.8" r="0.98" fill="#111"/><circle cx="112.6" cy="474.8" r="0.98" fill="#111"/><circle cx="116.8" cy="474.8" r="0.98" fill="#111"/><circle cx="121.0" cy="474.8" r="0.98" fill="#111"/><circle cx="125.2" cy="474.8" r="0.98" fill="#111"/><circle cx="114.7" cy="476.9" r="0.98" fill="#111"/><circle cx="118.9" cy="476.9" r="0.98" fill="#111"/><circle cx="123.1" cy="476.9" r="0.98" fill="#111"/><circle cx="116.8" cy="479.0" r="0.98" fill="#111"/><circle cx="121.0" cy="479.0" r="0.98" fill="#111"/><circle cx="125.2" cy="479.0" r="0.98" fill="#111"/><circle cx="118.9" cy="481.1" r="0.98" fill="#111"/><circle cx="123.1" cy="481.1" r="0.98" fill="#111"/><circle cx="116.8" cy="483.2" r="0.98" fill="#111"/><circle cx="121.0" cy="483.2" r="0.98" fill="#111"/><circle cx="125.2" cy="483.2" r="0.98" fill="#111"/><circle cx="118.9" cy="485.3" r="0.98" fill="#111"/></g><circle cx="112.6" cy="466.4" r="22.3" fill="none" stroke="#262626" stroke-width="0.9"/>
<path d="M176.50,444.60 L180.70,440.40 L184.90,444.60" fill="none" stroke="#333" stroke-width="0.85" stroke-linejoin="round"/>
<rect x="156.20" y="463.30" width="2.6" height="9.4" rx="0.5" fill="#fff" stroke="#3a3a3a" stroke-width="0.75"/>
<rect x="202.60" y="463.30" width="2.6" height="9.4" rx="0.5" fill="#fff" stroke="#3a3a3a" stroke-width="0.75"/><clipPath id="hc7"><circle cx="180.7" cy="466.4" r="22.3"/></clipPath><g clip-path="url(#hc7)"><g filter="url(#blur)"><rect x="150.7" y="436.4" width="60" height="60" fill="#3290e0"/><ellipse cx="175.1" cy="453.2" rx="6" ry="5" fill="#28acd8" fill-opacity="1.0"/><ellipse cx="165.3" cy="469.3" rx="5" ry="5" fill="#25b0d0" fill-opacity="1.0"/><ellipse cx="192.7" cy="465.8" rx="5" ry="5" fill="#28b8c8" fill-opacity="1.0"/><ellipse cx="183.5" cy="481.2" rx="6" ry="4" fill="#22a8dc" fill-opacity="1.0"/><ellipse cx="193.3" cy="452.5" rx="6" ry="6" fill="#4c60cc" fill-opacity="1.0"/><ellipse cx="194.7" cy="474.9" rx="6" ry="5" fill="#5058c8" fill-opacity="1.0"/><ellipse cx="167.4" cy="478.4" rx="6" ry="5" fill="#4a62cc" fill-opacity="1.0"/><ellipse cx="180.7" cy="469.4" rx="6" ry="4" fill="#4470d8" fill-opacity="1.0"/></g><circle cx="180.7" cy="462.2" r="0.98" fill="#111"/><circle cx="178.6" cy="464.3" r="0.98" fill="#111"/><circle cx="182.8" cy="464.3" r="0.98" fill="#111"/><circle cx="180.7" cy="466.4" r="0.98" fill="#111"/><circle cx="178.6" cy="468.5" r="0.98" fill="#111"/><circle cx="182.8" cy="468.5" r="0.98" fill="#111"/><circle cx="176.5" cy="470.6" r="0.98" fill="#111"/><circle cx="180.7" cy="470.6" r="0.98" fill="#111"/><circle cx="184.9" cy="470.6" r="0.98" fill="#111"/><circle cx="166.0" cy="472.7" r="0.98" fill="#111"/><circle cx="170.2" cy="472.7" r="0.98" fill="#111"/><circle cx="174.4" cy="472.7" r="0.98" fill="#111"/><circle cx="178.6" cy="472.7" r="0.98" fill="#111"/><circle cx="182.8" cy="472.7" r="0.98" fill="#111"/><circle cx="187.0" cy="472.7" r="0.98" fill="#111"/><circle cx="163.9" cy="474.8" r="0.98" fill="#111"/><circle cx="168.1" cy="474.8" r="0.98" fill="#111"/><circle cx="172.3" cy="474.8" r="0.98" fill="#111"/><circle cx="176.5" cy="474.8" r="0.98" fill="#111"/><circle cx="180.7" cy="474.8" r="0.98" fill="#111"/><circle cx="184.9" cy="474.8" r="0.98" fill="#111"/><circle cx="189.1" cy="474.8" r="0.98" fill="#111"/><circle cx="166.0" cy="476.9" r="0.98" fill="#111"/><circle cx="170.2" cy="476.9" r="0.98" fill="#111"/><circle cx="174.4" cy="476.9" r="0.98" fill="#111"/><circle cx="163.9" cy="479.0" r="0.98" fill="#111"/><circle cx="168.1" cy="479.0" r="0.98" fill="#111"/><circle cx="172.3" cy="479.0" r="0.98" fill="#111"/><circle cx="166.0" cy="481.1" r="0.98" fill="#111"/><circle cx="170.2" cy="481.1" r="0.98" fill="#111"/><circle cx="174.4" cy="481.1" r="0.98" fill="#111"/><circle cx="168.1" cy="483.2" r="0.98" fill="#111"/><circle cx="172.3" cy="483.2" r="0.98" fill="#111"/><circle cx="174.4" cy="485.3" r="0.98" fill="#111"/></g><circle cx="180.7" cy="466.4" r="22.3" fill="none" stroke="#262626" stroke-width="0.9"/>
<path d="M244.60,444.60 L248.80,440.40 L253.00,444.60" fill="none" stroke="#333" stroke-width="0.85" stroke-linejoin="round"/>
<rect x="224.30" y="463.30" width="2.6" height="9.4" rx="0.5" fill="#fff" stroke="#3a3a3a" stroke-width="0.75"/>
<rect x="270.70" y="463.30" width="2.6" height="9.4" rx="0.5" fill="#fff" stroke="#3a3a3a" stroke-width="0.75"/><clipPath id="hc8"><circle cx="248.8" cy="466.4" r="22.3"/></clipPath><g clip-path="url(#hc8)"><g filter="url(#blur)"><rect x="218.8" y="436.4" width="60" height="60" fill="#2a9ee0"/><ellipse cx="250.9" cy="453.9" rx="5" ry="6" fill="#28bcc0" fill-opacity="1.0"/><ellipse cx="256.5" cy="458.8" rx="5" ry="4" fill="#30b8c0" fill-opacity="1.0"/><ellipse cx="248.1" cy="479.8" rx="4.5" ry="4" fill="#2cbcb8" fill-opacity="1.0"/><ellipse cx="241.1" cy="467.9" rx="6" ry="7" fill="#4a5ccc" fill-opacity="1.0"/><ellipse cx="243.8" cy="470.4" rx="4" ry="4" fill="#4c58c8" fill-opacity="1.0"/><ellipse cx="260.0" cy="477.0" rx="6" ry="7" fill="#5048c0" fill-opacity="1.0"/><ellipse cx="229.8" cy="466.4" rx="4" ry="6" fill="#2aaadc" fill-opacity="1.0"/></g><circle cx="242.5" cy="464.3" r="1.05" fill="#111"/><circle cx="240.1" cy="466.4" r="1.05" fill="#111"/><circle cx="244.6" cy="466.4" r="1.05" fill="#111"/><circle cx="238.0" cy="468.6" r="1.05" fill="#111"/><circle cx="242.5" cy="468.6" r="1.05" fill="#111"/><circle cx="240.4" cy="470.7" r="1.05" fill="#111"/><circle cx="245.0" cy="470.7" r="1.05" fill="#111"/><circle cx="239.0" cy="472.8" r="1.05" fill="#111"/><circle cx="243.1" cy="472.8" r="1.05" fill="#111"/></g><circle cx="248.8" cy="466.4" r="22.3" fill="none" stroke="#262626" stroke-width="0.9"/>
<path d="M312.70,444.60 L316.90,440.40 L321.10,444.60" fill="none" stroke="#333" stroke-width="0.85" stroke-linejoin="round"/>
<rect x="292.40" y="463.30" width="2.6" height="9.4" rx="0.5" fill="#fff" stroke="#3a3a3a" stroke-width="0.75"/>
<rect x="338.80" y="463.30" width="2.6" height="9.4" rx="0.5" fill="#fff" stroke="#3a3a3a" stroke-width="0.75"/><clipPath id="hc9"><circle cx="316.9" cy="466.4" r="22.3"/></clipPath><g clip-path="url(#hc9)"><g filter="url(#blur)"><rect x="286.9" y="436.4" width="60" height="60" fill="#3395e0"/><ellipse cx="314.0" cy="450.4" rx="7" ry="4" fill="#3a86dc" fill-opacity="1.0"/><ellipse cx="306.9" cy="461.4" rx="6" ry="5" fill="#2aa6dc" fill-opacity="1.0"/><ellipse cx="326.6" cy="478.4" rx="9" ry="7" fill="#4e4cc2" fill-opacity="1.0"/><ellipse cx="307.0" cy="479.1" rx="7" ry="5" fill="#4a5ac8" fill-opacity="1.0"/><ellipse cx="316.9" cy="484.4" rx="10" ry="4" fill="#4068d0" fill-opacity="1.0"/><ellipse cx="323.8" cy="469.3" rx="3.5" ry="2.6" fill="#26ccc8" fill-opacity="1.0"/></g><circle cx="316.9" cy="458.0" r="0.98" fill="#111"/><circle cx="321.1" cy="458.0" r="0.98" fill="#111"/><circle cx="325.3" cy="458.0" r="0.98" fill="#111"/><circle cx="314.8" cy="460.1" r="0.98" fill="#111"/><circle cx="319.0" cy="460.1" r="0.98" fill="#111"/><circle cx="323.2" cy="460.1" r="0.98" fill="#111"/><circle cx="327.4" cy="460.1" r="0.98" fill="#111"/><circle cx="331.6" cy="460.1" r="0.98" fill="#111"/><circle cx="312.7" cy="462.2" r="0.98" fill="#111"/><circle cx="316.9" cy="462.2" r="0.98" fill="#111"/><circle cx="321.1" cy="462.2" r="0.98" fill="#111"/><circle cx="325.3" cy="462.2" r="0.98" fill="#111"/><circle cx="329.5" cy="462.2" r="0.98" fill="#111"/><circle cx="333.7" cy="462.2" r="0.98" fill="#111"/><circle cx="306.4" cy="464.3" r="0.98" fill="#111"/><circle cx="310.6" cy="464.3" r="0.98" fill="#111"/><circle cx="314.8" cy="464.3" r="0.98" fill="#111"/><circle cx="319.0" cy="464.3" r="0.98" fill="#111"/><circle cx="323.2" cy="464.3" r="0.98" fill="#111"/><circle cx="327.4" cy="464.3" r="0.98" fill="#111"/><circle cx="331.6" cy="464.3" r="0.98" fill="#111"/><circle cx="335.8" cy="464.3" r="0.98" fill="#111"/><circle cx="304.3" cy="466.4" r="0.98" fill="#111"/><circle cx="308.5" cy="466.4" r="0.98" fill="#111"/><circle cx="312.7" cy="466.4" r="0.98" fill="#111"/><circle cx="316.9" cy="466.4" r="0.98" fill="#111"/><circle cx="321.1" cy="466.4" r="0.98" fill="#111"/><circle cx="325.3" cy="466.4" r="0.98" fill="#111"/><circle cx="329.5" cy="466.4" r="0.98" fill="#111"/><circle cx="333.7" cy="466.4" r="0.98" fill="#111"/><circle cx="337.9" cy="466.4" r="0.98" fill="#111"/><circle cx="302.2" cy="468.5" r="0.98" fill="#111"/><circle cx="306.4" cy="468.5" r="0.98" fill="#111"/><circle cx="310.6" cy="468.5" r="0.98" fill="#111"/><circle cx="314.8" cy="468.5" r="0.98" fill="#111"/><circle cx="327.4" cy="468.5" r="0.98" fill="#111"/><circle cx="331.6" cy="468.5" r="0.98" fill="#111"/><circle cx="335.8" cy="468.5" r="0.98" fill="#111"/><circle cx="300.1" cy="470.6" r="0.98" fill="#111"/><circle cx="304.3" cy="470.6" r="0.98" fill="#111"/><circle cx="308.5" cy="470.6" r="0.98" fill="#111"/><circle cx="312.7" cy="470.6" r="0.98" fill="#111"/><circle cx="316.9" cy="470.6" r="0.98" fill="#111"/><circle cx="329.5" cy="470.6" r="0.98" fill="#111"/><circle cx="333.7" cy="470.6" r="0.98" fill="#111"/><circle cx="337.9" cy="470.6" r="0.98" fill="#111"/><circle cx="302.2" cy="472.7" r="0.98" fill="#111"/><circle cx="306.4" cy="472.7" r="0.98" fill="#111"/><circle cx="310.6" cy="472.7" r="0.98" fill="#111"/><circle cx="327.4" cy="472.7" r="0.98" fill="#111"/><circle cx="331.6" cy="472.7" r="0.98" fill="#111"/><circle cx="335.8" cy="472.7" r="0.98" fill="#111"/><circle cx="300.1" cy="474.8" r="0.98" fill="#111"/><circle cx="304.3" cy="474.8" r="0.98" fill="#111"/><circle cx="308.5" cy="474.8" r="0.98" fill="#111"/><circle cx="312.7" cy="474.8" r="0.98" fill="#111"/><circle cx="316.9" cy="474.8" r="0.98" fill="#111"/><circle cx="321.1" cy="474.8" r="0.98" fill="#111"/><circle cx="325.3" cy="474.8" r="0.98" fill="#111"/><circle cx="329.5" cy="474.8" r="0.98" fill="#111"/><circle cx="333.7" cy="474.8" r="0.98" fill="#111"/><circle cx="302.2" cy="476.9" r="0.98" fill="#111"/><circle cx="306.4" cy="476.9" r="0.98" fill="#111"/><circle cx="310.6" cy="476.9" r="0.98" fill="#111"/><circle cx="314.8" cy="476.9" r="0.98" fill="#111"/><circle cx="319.0" cy="476.9" r="0.98" fill="#111"/><circle cx="323.2" cy="476.9" r="0.98" fill="#111"/><circle cx="327.4" cy="476.9" r="0.98" fill="#111"/><circle cx="331.6" cy="476.9" r="0.98" fill="#111"/><circle cx="300.1" cy="479.0" r="0.98" fill="#111"/><circle cx="304.3" cy="479.0" r="0.98" fill="#111"/><circle cx="308.5" cy="479.0" r="0.98" fill="#111"/><circle cx="312.7" cy="479.0" r="0.98" fill="#111"/><circle cx="316.9" cy="479.0" r="0.98" fill="#111"/><circle cx="321.1" cy="479.0" r="0.98" fill="#111"/><circle cx="325.3" cy="479.0" r="0.98" fill="#111"/><circle cx="329.5" cy="479.0" r="0.98" fill="#111"/><circle cx="333.7" cy="479.0" r="0.98" fill="#111"/><circle cx="302.2" cy="481.1" r="0.98" fill="#111"/><circle cx="306.4" cy="481.1" r="0.98" fill="#111"/><circle cx="310.6" cy="481.1" r="0.98" fill="#111"/><circle cx="314.8" cy="481.1" r="0.98" fill="#111"/><circle cx="319.0" cy="481.1" r="0.98" fill="#111"/><circle cx="323.2" cy="481.1" r="0.98" fill="#111"/><circle cx="327.4" cy="481.1" r="0.98" fill="#111"/><circle cx="331.6" cy="481.1" r="0.98" fill="#111"/><circle cx="304.3" cy="483.2" r="0.98" fill="#111"/><circle cx="308.5" cy="483.2" r="0.98" fill="#111"/><circle cx="312.7" cy="483.2" r="0.98" fill="#111"/><circle cx="316.9" cy="483.2" r="0.98" fill="#111"/><circle cx="321.1" cy="483.2" r="0.98" fill="#111"/><circle cx="325.3" cy="483.2" r="0.98" fill="#111"/><circle cx="329.5" cy="483.2" r="0.98" fill="#111"/><circle cx="310.6" cy="485.3" r="0.98" fill="#111"/><circle cx="314.8" cy="485.3" r="0.98" fill="#111"/><circle cx="319.0" cy="485.3" r="0.98" fill="#111"/><circle cx="323.2" cy="485.3" r="0.98" fill="#111"/><circle cx="312.7" cy="487.4" r="0.98" fill="#111"/><circle cx="316.9" cy="487.4" r="0.98" fill="#111"/><circle cx="321.1" cy="487.4" r="0.98" fill="#111"/></g><circle cx="316.9" cy="466.4" r="22.3" fill="none" stroke="#262626" stroke-width="0.9"/>
<path d="M498.40,448.30 L502.60,444.10 L506.80,448.30" fill="none" stroke="#333" stroke-width="0.85" stroke-linejoin="round"/>
<rect x="478.10" y="467.00" width="2.6" height="9.4" rx="0.5" fill="#fff" stroke="#3a3a3a" stroke-width="0.75"/>
<rect x="524.50" y="467.00" width="2.6" height="9.4" rx="0.5" fill="#fff" stroke="#3a3a3a" stroke-width="0.75"/><clipPath id="hc20"><circle cx="502.6" cy="470.1" r="22.3"/></clipPath><g clip-path="url(#hc20)"><g filter="url(#blur3)"><rect x="472.6" y="440.1" width="60" height="60" fill="#3294de"/><ellipse cx="490.6" cy="458.1" rx="9" ry="8" fill="#4e56c2" fill-opacity="1.0"/><ellipse cx="502.6" cy="451.1" rx="12" ry="4" fill="#4e5cc4" fill-opacity="1.0"/><ellipse cx="516.6" cy="456.1" rx="5" ry="5" fill="#4a60c8" fill-opacity="1.0"/><ellipse cx="502.6" cy="466.1" rx="22" ry="7" fill="#22acd8" fill-opacity="1.0"/><ellipse cx="498.6" cy="460.1" rx="8" ry="4" fill="#24b0d4" fill-opacity="1.0"/><ellipse cx="489.6" cy="469.6" rx="3" ry="2.5" fill="#44c0a0" fill-opacity="1.0"/><ellipse cx="497.1" cy="457.6" rx="3" ry="2.5" fill="#44c0a0" fill-opacity="1.0"/><ellipse cx="510.1" cy="458.6" rx="3" ry="2.5" fill="#3cbcb0" fill-opacity="1.0"/><ellipse cx="517.1" cy="466.6" rx="3.5" ry="3.5" fill="#56c092" fill-opacity="1.0"/><ellipse cx="494.6" cy="463.1" rx="2.5" ry="2" fill="#38b8b8" fill-opacity="1.0"/><ellipse cx="502.9" cy="471.3" rx="4.2" ry="4.2" fill="#5454c0" fill-opacity="1.0"/><ellipse cx="505.6" cy="461.8" rx="2.2" ry="2" fill="#4a5cc8" fill-opacity="1.0"/><ellipse cx="493.0" cy="479.6" rx="5.5" ry="5" fill="#4c5cc8" fill-opacity="1.0"/><ellipse cx="514.0" cy="479.6" rx="4" ry="3.5" fill="#4c5cc8" fill-opacity="1.0"/><ellipse cx="507.6" cy="483.1" rx="4" ry="3" fill="#4a60c8" fill-opacity="1.0"/><ellipse cx="512.6" cy="485.6" rx="4" ry="3" fill="#22aadc" fill-opacity="1.0"/><ellipse cx="503.6" cy="490.1" rx="7" ry="3" fill="#28a8dc" fill-opacity="1.0"/><ellipse cx="520.6" cy="475.1" rx="3" ry="4" fill="#22b0d6" fill-opacity="1.0"/><ellipse cx="485.6" cy="475.1" rx="4" ry="5" fill="#26acd8" fill-opacity="1.0"/><ellipse cx="488.6" cy="486.1" rx="4" ry="4" fill="#3a80d8" fill-opacity="1.0"/></g><circle cx="506.2" cy="478.4" r="1.05" fill="#111"/><circle cx="503.7" cy="480.5" r="1.05" fill="#111"/><circle cx="502.0" cy="482.5" r="1.05" fill="#111"/><circle cx="505.5" cy="482.8" r="1.05" fill="#111"/><circle cx="508.3" cy="483.0" r="1.05" fill="#111"/><circle cx="510.3" cy="481.1" r="1.05" fill="#111"/><circle cx="504.6" cy="484.8" r="1.05" fill="#111"/><circle cx="508.0" cy="486.0" r="1.05" fill="#111"/></g><circle cx="502.6" cy="470.1" r="22.3" fill="none" stroke="#262626" stroke-width="0.9"/>
<path d="M566.40,448.30 L570.60,444.10 L574.80,448.30" fill="none" stroke="#333" stroke-width="0.85" stroke-linejoin="round"/>
<rect x="546.10" y="467.00" width="2.6" height="9.4" rx="0.5" fill="#fff" stroke="#3a3a3a" stroke-width="0.75"/>
<rect x="592.50" y="467.00" width="2.6" height="9.4" rx="0.5" fill="#fff" stroke="#3a3a3a" stroke-width="0.75"/><clipPath id="hc21"><circle cx="570.6" cy="470.1" r="22.3"/></clipPath><g clip-path="url(#hc21)"><g filter="url(#blur3)"><rect x="540.6" y="440.1" width="60" height="60" fill="#3294de"/><ellipse cx="557.6" cy="458.1" rx="9" ry="8" fill="#4e56c2" fill-opacity="1.0"/><ellipse cx="570.6" cy="451.1" rx="12" ry="4" fill="#4e5cc4" fill-opacity="1.0"/><ellipse cx="584.6" cy="457.1" rx="5" ry="5" fill="#4a60c8" fill-opacity="1.0"/><ellipse cx="570.6" cy="466.1" rx="22" ry="7" fill="#22acd8" fill-opacity="1.0"/><ellipse cx="573.6" cy="460.1" rx="8" ry="4" fill="#24b0d4" fill-opacity="1.0"/><ellipse cx="564.6" cy="457.5" rx="3" ry="2.5" fill="#4cc098" fill-opacity="1.0"/><ellipse cx="558.6" cy="466.3" rx="3.5" ry="2.5" fill="#62c080" fill-opacity="1.0"/><ellipse cx="561.1" cy="469.8" rx="3" ry="2.2" fill="#7cc266" fill-opacity="1.0"/><ellipse cx="583.0" cy="466.3" rx="4" ry="2.5" fill="#50c092" fill-opacity="1.0"/><ellipse cx="576.0" cy="457.5" rx="3" ry="2.5" fill="#36bcb8" fill-opacity="1.0"/><ellipse cx="570.8" cy="470.9" rx="4.2" ry="5" fill="#5454c0" fill-opacity="1.0"/><ellipse cx="571.6" cy="462.1" rx="3" ry="2" fill="#4a60c8" fill-opacity="1.0"/><ellipse cx="563.8" cy="478.1" rx="4.5" ry="4" fill="#4c5cc8" fill-opacity="1.0"/><ellipse cx="575.2" cy="485.1" rx="5" ry="4" fill="#4c5cc8" fill-opacity="1.0"/><ellipse cx="558.6" cy="482.1" rx="4" ry="4" fill="#3a80d8" fill-opacity="1.0"/><ellipse cx="582.6" cy="480.1" rx="4" ry="4" fill="#22aadc" fill-opacity="1.0"/><ellipse cx="569.6" cy="490.1" rx="6" ry="3" fill="#28a8dc" fill-opacity="1.0"/><ellipse cx="588.6" cy="475.1" rx="3" ry="4" fill="#22b0d6" fill-opacity="1.0"/><ellipse cx="553.6" cy="475.1" rx="4" ry="5" fill="#26acd8" fill-opacity="1.0"/></g><circle cx="573.8" cy="478.4" r="1.05" fill="#111"/><circle cx="571.8" cy="480.7" r="1.05" fill="#111"/><circle cx="578.2" cy="481.0" r="1.05" fill="#111"/><circle cx="575.9" cy="482.9" r="1.05" fill="#111"/></g><circle cx="570.6" cy="470.1" r="22.3" fill="none" stroke="#262626" stroke-width="0.9"/>
<path d="M634.20,448.30 L638.40,444.10 L642.60,448.30" fill="none" stroke="#333" stroke-width="0.85" stroke-linejoin="round"/>
<rect x="613.90" y="467.00" width="2.6" height="9.4" rx="0.5" fill="#fff" stroke="#3a3a3a" stroke-width="0.75"/>
<rect x="660.30" y="467.00" width="2.6" height="9.4" rx="0.5" fill="#fff" stroke="#3a3a3a" stroke-width="0.75"/><clipPath id="hc22"><circle cx="638.4" cy="470.1" r="22.3"/></clipPath><g clip-path="url(#hc22)"><g filter="url(#blur3)"><rect x="608.4" y="440.1" width="60" height="60" fill="#3294de"/><ellipse cx="625.6" cy="456.1" rx="9" ry="7" fill="#4e56c2" fill-opacity="1.0"/><ellipse cx="638.4" cy="451.1" rx="12" ry="4" fill="#4e5cc4" fill-opacity="1.0"/><ellipse cx="653.4" cy="458.1" rx="4" ry="4" fill="#4a60c8" fill-opacity="1.0"/><ellipse cx="638.4" cy="465.1" rx="22" ry="7" fill="#22acd8" fill-opacity="1.0"/><ellipse cx="640.4" cy="459.1" rx="8" ry="4" fill="#24b0d4" fill-opacity="1.0"/><ellipse cx="632.7" cy="458.4" rx="3" ry="2.5" fill="#4cc098" fill-opacity="1.0"/><ellipse cx="626.5" cy="466.3" rx="3.5" ry="2.5" fill="#62c07e" fill-opacity="1.0"/><ellipse cx="644.1" cy="456.7" rx="3" ry="2.5" fill="#40c0b0" fill-opacity="1.0"/><ellipse cx="654.4" cy="465.4" rx="4" ry="3.5" fill="#56c09a" fill-opacity="1.0"/><ellipse cx="648.4" cy="462.1" rx="3" ry="2.5" fill="#3cbcb0" fill-opacity="1.0"/><ellipse cx="640.5" cy="469.6" rx="4.2" ry="6" fill="#5454c0" fill-opacity="1.0"/><ellipse cx="635.3" cy="479.4" rx="5" ry="4" fill="#4c5cc8" fill-opacity="1.0"/><ellipse cx="646.7" cy="484.7" rx="5" ry="4" fill="#4c5cc8" fill-opacity="1.0"/><ellipse cx="626.4" cy="482.1" rx="4" ry="4" fill="#3a80d8" fill-opacity="1.0"/><ellipse cx="650.4" cy="476.1" rx="4" ry="4" fill="#22aadc" fill-opacity="1.0"/><ellipse cx="637.4" cy="490.1" rx="6" ry="3" fill="#28a8dc" fill-opacity="1.0"/><ellipse cx="621.4" cy="475.1" rx="4" ry="5" fill="#26acd8" fill-opacity="1.0"/></g><circle cx="646.2" cy="481.0" r="1.05" fill="#111"/><circle cx="643.9" cy="482.9" r="1.05" fill="#111"/><circle cx="648.3" cy="483.6" r="1.05" fill="#111"/><circle cx="643.9" cy="486.0" r="1.05" fill="#111"/><circle cx="647.1" cy="487.3" r="1.05" fill="#111"/></g><circle cx="638.4" cy="470.1" r="22.3" fill="none" stroke="#262626" stroke-width="0.9"/>
</svg>
</body></html>
